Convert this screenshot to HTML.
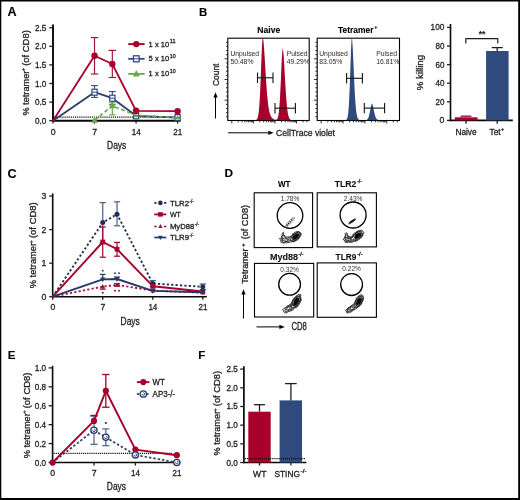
<!DOCTYPE html>
<html><head><meta charset="utf-8"><style>
html,body{margin:0;padding:0;background:#fff;}
svg{display:block;font-family:"Liberation Sans", sans-serif;will-change:transform;}
</style></head><body>
<svg width="520" height="500" viewBox="0 0 520 500">
<rect x="0" y="0" width="520" height="500" fill="#fff"/>
<text x="7.60" y="16.00" font-size="12.6" text-anchor="start" fill="#000" stroke="#000" stroke-width="0.1" font-weight="bold" >A</text>
<line x1="53.00" y1="24.60" x2="53.00" y2="121.70" stroke="#080808" stroke-width="1.9" />
<line x1="52.10" y1="120.70" x2="180.60" y2="120.70" stroke="#080808" stroke-width="1.9" />
<line x1="49.30" y1="120.70" x2="53.00" y2="120.70" stroke="#1e1e1e" stroke-width="1.3" />
<text x="46.30" y="123.70" font-size="8.7" text-anchor="end" fill="#1e1e1e" stroke="#1e1e1e" stroke-width="0.3" textLength="11.3" lengthAdjust="spacingAndGlyphs" >0.0</text>
<line x1="49.30" y1="102.10" x2="53.00" y2="102.10" stroke="#1e1e1e" stroke-width="1.3" />
<text x="46.30" y="105.10" font-size="8.7" text-anchor="end" fill="#1e1e1e" stroke="#1e1e1e" stroke-width="0.3" textLength="11.3" lengthAdjust="spacingAndGlyphs" >0.5</text>
<line x1="49.30" y1="83.50" x2="53.00" y2="83.50" stroke="#1e1e1e" stroke-width="1.3" />
<text x="46.30" y="86.50" font-size="8.7" text-anchor="end" fill="#1e1e1e" stroke="#1e1e1e" stroke-width="0.3" textLength="11.3" lengthAdjust="spacingAndGlyphs" >1.0</text>
<line x1="49.30" y1="64.90" x2="53.00" y2="64.90" stroke="#1e1e1e" stroke-width="1.3" />
<text x="46.30" y="67.90" font-size="8.7" text-anchor="end" fill="#1e1e1e" stroke="#1e1e1e" stroke-width="0.3" textLength="11.3" lengthAdjust="spacingAndGlyphs" >1.5</text>
<line x1="49.30" y1="46.30" x2="53.00" y2="46.30" stroke="#1e1e1e" stroke-width="1.3" />
<text x="46.30" y="49.30" font-size="8.7" text-anchor="end" fill="#1e1e1e" stroke="#1e1e1e" stroke-width="0.3" textLength="11.3" lengthAdjust="spacingAndGlyphs" >2.0</text>
<line x1="49.30" y1="27.70" x2="53.00" y2="27.70" stroke="#1e1e1e" stroke-width="1.3" />
<text x="46.30" y="30.70" font-size="8.7" text-anchor="end" fill="#1e1e1e" stroke="#1e1e1e" stroke-width="0.3" textLength="11.3" lengthAdjust="spacingAndGlyphs" >2.5</text>
<line x1="53.00" y1="120.70" x2="53.00" y2="123.60" stroke="#1e1e1e" stroke-width="1.3" />
<text x="53.10" y="134.60" font-size="8.7" text-anchor="middle" fill="#1e1e1e" stroke="#1e1e1e" stroke-width="0.3" >0</text>
<line x1="94.53" y1="120.70" x2="94.53" y2="123.60" stroke="#1e1e1e" stroke-width="1.3" />
<text x="94.63" y="134.60" font-size="8.7" text-anchor="middle" fill="#1e1e1e" stroke="#1e1e1e" stroke-width="0.3" >7</text>
<line x1="136.07" y1="120.70" x2="136.07" y2="123.60" stroke="#1e1e1e" stroke-width="1.3" />
<text x="136.17" y="134.60" font-size="8.7" text-anchor="middle" fill="#1e1e1e" stroke="#1e1e1e" stroke-width="0.3" textLength="8.9" lengthAdjust="spacingAndGlyphs" >14</text>
<line x1="177.60" y1="120.70" x2="177.60" y2="123.60" stroke="#1e1e1e" stroke-width="1.3" />
<text x="177.70" y="134.60" font-size="8.7" text-anchor="middle" fill="#1e1e1e" stroke="#1e1e1e" stroke-width="0.3" textLength="8.9" lengthAdjust="spacingAndGlyphs" >21</text>
<text x="116.70" y="148.90" font-size="10" text-anchor="middle" fill="#1e1e1e" stroke="#1e1e1e" stroke-width="0.3" textLength="19.2" lengthAdjust="spacingAndGlyphs" >Days</text>
<g transform="rotate(-90 29.20 115.60)"><text x="29.20" y="115.60" font-size="9.6" fill="#1e1e1e" stroke="#1e1e1e" stroke-width="0.3" textLength="44.92235294117647" lengthAdjust="spacingAndGlyphs">% tetramer</text><text x="73.72" y="111.80" font-size="5.376" fill="#1e1e1e" stroke="#1e1e1e" stroke-width="0.3" textLength="3.2376470588235295" lengthAdjust="spacingAndGlyphs">+</text><text x="78.98" y="115.60" font-size="9.6" fill="#1e1e1e" stroke="#1e1e1e" stroke-width="0.3" textLength="35.614117647058826" lengthAdjust="spacingAndGlyphs">(of CD8)</text></g>
<line x1="54.00" y1="117.00" x2="180.00" y2="117.00" stroke="#111" stroke-width="1.25" stroke-dasharray="1.2 0.9"/>
<polyline points="53.00,120.70 94.53,92.20 112.33,98.20 136.07,115.80 177.60,117.60" fill="none" stroke="#283f6e" stroke-width="1.8" stroke-linejoin="round" />
<line x1="94.53" y1="85.60" x2="94.53" y2="97.40" stroke="#2f4a7c" stroke-width="1.1" />
<line x1="91.13" y1="85.60" x2="97.93" y2="85.60" stroke="#2f4a7c" stroke-width="1.1" />
<line x1="91.13" y1="97.40" x2="97.93" y2="97.40" stroke="#2f4a7c" stroke-width="1.1" />
<line x1="112.33" y1="91.60" x2="112.33" y2="104.80" stroke="#2f4a7c" stroke-width="1.1" />
<line x1="108.93" y1="91.60" x2="115.73" y2="91.60" stroke="#2f4a7c" stroke-width="1.1" />
<line x1="108.93" y1="104.80" x2="115.73" y2="104.80" stroke="#2f4a7c" stroke-width="1.1" />
<rect x="91.93" y="89.20" width="5.20" height="6.00" fill="#fff" stroke="#2f4a7c" stroke-width="1.2"/>
<line x1="91.93" y1="92.20" x2="97.13" y2="92.20" stroke="#2f4a7c" stroke-width="1" />
<rect x="109.73" y="95.20" width="5.20" height="6.00" fill="#fff" stroke="#2f4a7c" stroke-width="1.2"/>
<line x1="109.73" y1="98.20" x2="114.93" y2="98.20" stroke="#2f4a7c" stroke-width="1" />
<rect x="133.47" y="112.80" width="5.20" height="6.00" fill="#fff" stroke="#2f4a7c" stroke-width="1.2"/>
<line x1="133.47" y1="115.80" x2="138.67" y2="115.80" stroke="#2f4a7c" stroke-width="1" />
<rect x="175.00" y="114.60" width="5.20" height="6.00" fill="#fff" stroke="#2f4a7c" stroke-width="1.2"/>
<line x1="175.00" y1="117.60" x2="180.20" y2="117.60" stroke="#2f4a7c" stroke-width="1" />
<polyline points="94.53,120.40 112.33,105.80 136.07,115.40 177.60,117.80" fill="none" stroke="#6aa94a" stroke-width="1.6" stroke-linejoin="round" stroke-dasharray="4 2.5"/>
<line x1="112.33" y1="102.80" x2="112.33" y2="114.80" stroke="#6aa94a" stroke-width="1.2" />
<line x1="109.13" y1="102.80" x2="115.53" y2="102.80" stroke="#6aa94a" stroke-width="1.2" />
<line x1="109.13" y1="114.80" x2="115.53" y2="114.80" stroke="#6aa94a" stroke-width="1.2" />
<polygon points="94.53,116.73 91.13,122.85 97.93,122.85" fill="#6aa94a" stroke="none"/>
<polygon points="112.33,102.13 108.93,108.25 115.73,108.25" fill="#6aa94a" stroke="none"/>
<polygon points="136.07,112.70 133.57,117.20 138.57,117.20" fill="#6aa94a" stroke="none"/>
<polygon points="177.60,115.10 175.10,119.60 180.10,119.60" fill="#6aa94a" stroke="none"/>
<polyline points="53.00,120.70 94.53,55.80 112.33,64.00 136.07,110.80 177.60,111.20" fill="none" stroke="#a6002b" stroke-width="1.8" stroke-linejoin="round" />
<line x1="94.53" y1="37.60" x2="94.53" y2="74.00" stroke="#9b1238" stroke-width="1.15" />
<line x1="90.83" y1="37.60" x2="98.23" y2="37.60" stroke="#9b1238" stroke-width="1.15" />
<line x1="90.83" y1="74.00" x2="98.23" y2="74.00" stroke="#9b1238" stroke-width="1.15" />
<line x1="112.33" y1="50.40" x2="112.33" y2="77.50" stroke="#9b1238" stroke-width="1.15" />
<line x1="108.63" y1="50.40" x2="116.03" y2="50.40" stroke="#9b1238" stroke-width="1.15" />
<line x1="108.63" y1="77.50" x2="116.03" y2="77.50" stroke="#9b1238" stroke-width="1.15" />
<circle cx="94.53" cy="55.80" r="3.20" fill="#a6002b" stroke="none" stroke-width="1"/>
<circle cx="112.33" cy="64.00" r="3.20" fill="#a6002b" stroke="none" stroke-width="1"/>
<circle cx="136.07" cy="110.80" r="3.20" fill="#a6002b" stroke="none" stroke-width="1"/>
<circle cx="177.60" cy="111.20" r="3.20" fill="#a6002b" stroke="none" stroke-width="1"/>
<line x1="128.20" y1="44.10" x2="144.60" y2="44.10" stroke="#a6002b" stroke-width="1.9" />
<circle cx="136.30" cy="44.10" r="3.20" fill="#a6002b" stroke="none" stroke-width="1"/>
<line x1="128.20" y1="58.80" x2="144.60" y2="58.80" stroke="#2f4a7c" stroke-width="1.8" />
<rect x="133.50" y="55.80" width="5.60" height="6.00" fill="#fff" stroke="#2f4a7c" stroke-width="1.3"/>
<line x1="133.50" y1="58.80" x2="139.10" y2="58.80" stroke="#2f4a7c" stroke-width="1" />
<line x1="128.20" y1="73.90" x2="144.60" y2="73.90" stroke="#6aa94a" stroke-width="1.8" />
<polygon points="136.30,70.12 132.80,76.42 139.80,76.42" fill="#6aa94a" stroke="none"/>
<text x="148.60" y="46.60" font-size="8.0" fill="#1e1e1e" stroke="#1e1e1e" stroke-width="0.3" textLength="20.6" lengthAdjust="spacingAndGlyphs">1 x 10</text><text x="169.80" y="43.10" font-size="5.4" fill="#1e1e1e" stroke="#1e1e1e" stroke-width="0.3" textLength="5.8" lengthAdjust="spacingAndGlyphs">11</text>
<text x="148.60" y="61.30" font-size="8.0" fill="#1e1e1e" stroke="#1e1e1e" stroke-width="0.3" textLength="20.6" lengthAdjust="spacingAndGlyphs">5 x 10</text><text x="169.80" y="57.80" font-size="5.4" fill="#1e1e1e" stroke="#1e1e1e" stroke-width="0.3" textLength="5.8" lengthAdjust="spacingAndGlyphs">10</text>
<text x="148.60" y="76.40" font-size="8.0" fill="#1e1e1e" stroke="#1e1e1e" stroke-width="0.3" textLength="20.6" lengthAdjust="spacingAndGlyphs">1 x 10</text><text x="169.80" y="72.90" font-size="5.4" fill="#1e1e1e" stroke="#1e1e1e" stroke-width="0.3" textLength="5.8" lengthAdjust="spacingAndGlyphs">10</text>
<text x="199.00" y="15.60" font-size="11.4" text-anchor="start" fill="#000" stroke="#000" stroke-width="0.1" font-weight="bold" >B</text>
<text x="268.80" y="32.60" font-size="8.6" text-anchor="middle" fill="#000" stroke="#000" stroke-width="0.1" font-weight="bold" textLength="23" lengthAdjust="spacingAndGlyphs" >Naive</text>
<text x="338.00" y="32.60" font-size="8.6" fill="#000" stroke="#000" stroke-width="0.1" font-weight="bold" textLength="35.6" lengthAdjust="spacingAndGlyphs">Tetramer</text><text x="374.20" y="29.20" font-size="5.6" fill="#000" stroke="#000" stroke-width="0.1" font-weight="bold" textLength="3.2" lengthAdjust="spacingAndGlyphs">+</text>
<rect x="227.80" y="38.20" width="81.40" height="82.30" fill="none" stroke="#000" stroke-width="1.1"/>
<line x1="226.00" y1="116.76" x2="227.80" y2="116.76" stroke="#000" stroke-width="0.8" />
<line x1="226.00" y1="112.62" x2="227.80" y2="112.62" stroke="#000" stroke-width="0.8" />
<line x1="226.00" y1="108.48" x2="227.80" y2="108.48" stroke="#000" stroke-width="0.8" />
<line x1="226.00" y1="104.34" x2="227.80" y2="104.34" stroke="#000" stroke-width="0.8" />
<line x1="224.60" y1="100.20" x2="227.80" y2="100.20" stroke="#000" stroke-width="0.8" />
<line x1="226.00" y1="96.06" x2="227.80" y2="96.06" stroke="#000" stroke-width="0.8" />
<line x1="226.00" y1="91.92" x2="227.80" y2="91.92" stroke="#000" stroke-width="0.8" />
<line x1="226.00" y1="87.78" x2="227.80" y2="87.78" stroke="#000" stroke-width="0.8" />
<line x1="226.00" y1="83.64" x2="227.80" y2="83.64" stroke="#000" stroke-width="0.8" />
<line x1="224.60" y1="79.50" x2="227.80" y2="79.50" stroke="#000" stroke-width="0.8" />
<line x1="226.00" y1="75.36" x2="227.80" y2="75.36" stroke="#000" stroke-width="0.8" />
<line x1="226.00" y1="71.22" x2="227.80" y2="71.22" stroke="#000" stroke-width="0.8" />
<line x1="226.00" y1="67.08" x2="227.80" y2="67.08" stroke="#000" stroke-width="0.8" />
<line x1="226.00" y1="62.94" x2="227.80" y2="62.94" stroke="#000" stroke-width="0.8" />
<line x1="224.60" y1="58.80" x2="227.80" y2="58.80" stroke="#000" stroke-width="0.8" />
<line x1="226.00" y1="54.66" x2="227.80" y2="54.66" stroke="#000" stroke-width="0.8" />
<line x1="226.00" y1="50.52" x2="227.80" y2="50.52" stroke="#000" stroke-width="0.8" />
<line x1="226.00" y1="46.38" x2="227.80" y2="46.38" stroke="#000" stroke-width="0.8" />
<line x1="226.00" y1="42.24" x2="227.80" y2="42.24" stroke="#000" stroke-width="0.8" />
<line x1="231.80" y1="120.50" x2="231.80" y2="123.50" stroke="#000" stroke-width="0.8" />
<line x1="238.30" y1="120.50" x2="238.30" y2="122.30" stroke="#000" stroke-width="0.8" />
<line x1="242.10" y1="120.50" x2="242.10" y2="122.30" stroke="#000" stroke-width="0.8" />
<line x1="244.80" y1="120.50" x2="244.80" y2="122.30" stroke="#000" stroke-width="0.8" />
<line x1="246.89" y1="120.50" x2="246.89" y2="122.30" stroke="#000" stroke-width="0.8" />
<line x1="248.60" y1="120.50" x2="248.60" y2="122.30" stroke="#000" stroke-width="0.8" />
<line x1="250.04" y1="120.50" x2="250.04" y2="122.30" stroke="#000" stroke-width="0.8" />
<line x1="251.30" y1="120.50" x2="251.30" y2="122.30" stroke="#000" stroke-width="0.8" />
<line x1="252.40" y1="120.50" x2="252.40" y2="122.30" stroke="#000" stroke-width="0.8" />
<line x1="253.39" y1="120.50" x2="253.39" y2="123.50" stroke="#000" stroke-width="0.8" />
<line x1="259.89" y1="120.50" x2="259.89" y2="122.30" stroke="#000" stroke-width="0.8" />
<line x1="263.69" y1="120.50" x2="263.69" y2="122.30" stroke="#000" stroke-width="0.8" />
<line x1="266.39" y1="120.50" x2="266.39" y2="122.30" stroke="#000" stroke-width="0.8" />
<line x1="268.48" y1="120.50" x2="268.48" y2="122.30" stroke="#000" stroke-width="0.8" />
<line x1="270.19" y1="120.50" x2="270.19" y2="122.30" stroke="#000" stroke-width="0.8" />
<line x1="271.63" y1="120.50" x2="271.63" y2="122.30" stroke="#000" stroke-width="0.8" />
<line x1="272.88" y1="120.50" x2="272.88" y2="122.30" stroke="#000" stroke-width="0.8" />
<line x1="273.99" y1="120.50" x2="273.99" y2="122.30" stroke="#000" stroke-width="0.8" />
<line x1="274.98" y1="120.50" x2="274.98" y2="123.50" stroke="#000" stroke-width="0.8" />
<line x1="281.48" y1="120.50" x2="281.48" y2="122.30" stroke="#000" stroke-width="0.8" />
<line x1="285.28" y1="120.50" x2="285.28" y2="122.30" stroke="#000" stroke-width="0.8" />
<line x1="287.97" y1="120.50" x2="287.97" y2="122.30" stroke="#000" stroke-width="0.8" />
<line x1="290.07" y1="120.50" x2="290.07" y2="122.30" stroke="#000" stroke-width="0.8" />
<line x1="291.78" y1="120.50" x2="291.78" y2="122.30" stroke="#000" stroke-width="0.8" />
<line x1="293.22" y1="120.50" x2="293.22" y2="122.30" stroke="#000" stroke-width="0.8" />
<line x1="294.47" y1="120.50" x2="294.47" y2="122.30" stroke="#000" stroke-width="0.8" />
<line x1="295.58" y1="120.50" x2="295.58" y2="122.30" stroke="#000" stroke-width="0.8" />
<line x1="296.56" y1="120.50" x2="296.56" y2="123.50" stroke="#000" stroke-width="0.8" />
<line x1="303.06" y1="120.50" x2="303.06" y2="122.30" stroke="#000" stroke-width="0.8" />
<line x1="306.86" y1="120.50" x2="306.86" y2="122.30" stroke="#000" stroke-width="0.8" />
<path d="M252.00,120.20 L252.00,120.20 L252.25,120.20 L252.50,120.20 L252.75,120.20 L253.00,120.20 L253.25,120.19 L253.50,120.19 L253.75,120.19 L254.00,120.18 L254.25,120.18 L254.50,120.17 L254.75,120.16 L255.00,120.14 L255.25,120.11 L255.50,120.07 L255.75,120.01 L256.00,119.93 L256.25,119.81 L256.50,119.65 L256.75,119.43 L257.00,119.12 L257.25,118.70 L257.50,118.14 L257.75,117.40 L258.00,116.43 L258.25,115.19 L258.50,113.61 L258.75,111.64 L259.00,109.22 L259.25,106.29 L259.50,102.80 L259.75,98.73 L260.00,94.06 L260.25,88.81 L260.50,83.03 L260.75,76.82 L261.00,70.32 L261.25,63.72 L261.50,57.24 L261.75,51.16 L262.00,45.78 L262.25,41.42 L262.50,38.45 L262.75,37.39 L263.00,37.97 L263.25,39.41 L263.50,41.54 L263.75,44.25 L264.00,47.44 L264.25,51.00 L264.50,54.83 L264.75,58.85 L265.00,62.98 L265.25,67.14 L265.50,71.27 L265.75,75.31 L266.00,79.23 L266.25,82.98 L266.50,86.55 L266.75,89.92 L267.00,93.07 L267.25,95.98 L267.50,98.64 L267.75,101.06 L268.00,103.25 L268.25,105.21 L268.50,106.97 L268.75,108.54 L269.00,109.92 L269.25,111.14 L269.50,112.22 L269.75,113.17 L270.00,114.00 L270.25,114.73 L270.50,115.37 L270.75,115.93 L271.00,116.42 L271.25,116.85 L271.50,117.23 L271.75,117.57 L272.00,117.87 L272.25,118.13 L272.50,118.36 L272.75,118.57 L273.00,118.76 L273.25,118.92 L273.50,119.07 L273.75,119.20 L274.00,119.32 L274.25,119.42 L274.50,119.51 L274.75,119.58 L275.00,119.64 L275.25,119.69 L275.50,119.72 L275.75,119.73 L276.00,119.71 L276.25,119.65 L276.50,119.56 L276.75,119.40 L277.00,119.17 L277.25,118.84 L277.50,118.38 L277.75,117.76 L278.00,116.94 L278.25,115.88 L278.50,114.52 L278.75,112.82 L279.00,110.72 L279.25,108.16 L279.50,105.12 L279.75,101.56 L280.00,97.47 L280.25,92.87 L280.50,87.82 L280.75,82.38 L281.00,76.70 L281.25,70.94 L281.50,65.30 L281.75,60.03 L282.00,55.40 L282.25,51.70 L282.50,49.25 L282.75,48.54 L283.00,49.48 L283.25,51.40 L283.50,54.07 L283.75,57.37 L284.00,61.14 L284.25,65.26 L284.50,69.59 L284.75,74.04 L285.00,78.49 L285.25,82.85 L285.50,87.06 L285.75,91.06 L286.00,94.79 L286.25,98.24 L286.50,101.37 L286.75,104.20 L287.00,106.71 L287.25,108.92 L287.50,110.84 L287.75,112.50 L288.00,113.91 L288.25,115.11 L288.50,116.10 L288.75,116.93 L289.00,117.61 L289.25,118.17 L289.50,118.61 L289.75,118.97 L290.00,119.26 L290.25,119.48 L290.50,119.66 L290.75,119.79 L291.00,119.89 L291.25,119.97 L291.50,120.03 L291.75,120.08 L292.00,120.11 L292.25,120.14 L292.50,120.15 L292.75,120.17 L293.00,120.18 L293.25,120.18 L293.50,120.19 L293.75,120.19 L294.00,120.19 L294.25,120.20 L294.50,120.20 L294.75,120.20 L295.00,120.20 L295.25,120.20 L295.50,120.20 L295.75,120.20 L296.00,120.20 L296.25,120.20 L296.50,120.20 L296.75,120.20 L297.00,120.20 L297.25,120.20 L297.50,120.20 L297.75,120.20 L298.00,120.20 L298.25,120.20 L298.50,120.20 L298.75,120.20 L299.00,120.20 L299.25,120.20 L299.50,120.20 L299.75,120.20 L300.00,120.20 L300.25,120.20 L300.50,120.20 L300.75,120.20 L301.00,120.20 L301.25,120.20 L301.50,120.20 L301.75,120.20 L302.00,120.20 L302.00,120.20 Z" fill="#a6002b"/>
<rect x="317.20" y="38.20" width="82.30" height="82.30" fill="none" stroke="#000" stroke-width="1.1"/>
<line x1="315.40" y1="116.76" x2="317.20" y2="116.76" stroke="#000" stroke-width="0.8" />
<line x1="315.40" y1="112.62" x2="317.20" y2="112.62" stroke="#000" stroke-width="0.8" />
<line x1="315.40" y1="108.48" x2="317.20" y2="108.48" stroke="#000" stroke-width="0.8" />
<line x1="315.40" y1="104.34" x2="317.20" y2="104.34" stroke="#000" stroke-width="0.8" />
<line x1="314.00" y1="100.20" x2="317.20" y2="100.20" stroke="#000" stroke-width="0.8" />
<line x1="315.40" y1="96.06" x2="317.20" y2="96.06" stroke="#000" stroke-width="0.8" />
<line x1="315.40" y1="91.92" x2="317.20" y2="91.92" stroke="#000" stroke-width="0.8" />
<line x1="315.40" y1="87.78" x2="317.20" y2="87.78" stroke="#000" stroke-width="0.8" />
<line x1="315.40" y1="83.64" x2="317.20" y2="83.64" stroke="#000" stroke-width="0.8" />
<line x1="314.00" y1="79.50" x2="317.20" y2="79.50" stroke="#000" stroke-width="0.8" />
<line x1="315.40" y1="75.36" x2="317.20" y2="75.36" stroke="#000" stroke-width="0.8" />
<line x1="315.40" y1="71.22" x2="317.20" y2="71.22" stroke="#000" stroke-width="0.8" />
<line x1="315.40" y1="67.08" x2="317.20" y2="67.08" stroke="#000" stroke-width="0.8" />
<line x1="315.40" y1="62.94" x2="317.20" y2="62.94" stroke="#000" stroke-width="0.8" />
<line x1="314.00" y1="58.80" x2="317.20" y2="58.80" stroke="#000" stroke-width="0.8" />
<line x1="315.40" y1="54.66" x2="317.20" y2="54.66" stroke="#000" stroke-width="0.8" />
<line x1="315.40" y1="50.52" x2="317.20" y2="50.52" stroke="#000" stroke-width="0.8" />
<line x1="315.40" y1="46.38" x2="317.20" y2="46.38" stroke="#000" stroke-width="0.8" />
<line x1="315.40" y1="42.24" x2="317.20" y2="42.24" stroke="#000" stroke-width="0.8" />
<line x1="321.20" y1="120.50" x2="321.20" y2="123.50" stroke="#000" stroke-width="0.8" />
<line x1="327.78" y1="120.50" x2="327.78" y2="122.30" stroke="#000" stroke-width="0.8" />
<line x1="331.63" y1="120.50" x2="331.63" y2="122.30" stroke="#000" stroke-width="0.8" />
<line x1="334.36" y1="120.50" x2="334.36" y2="122.30" stroke="#000" stroke-width="0.8" />
<line x1="336.47" y1="120.50" x2="336.47" y2="122.30" stroke="#000" stroke-width="0.8" />
<line x1="338.20" y1="120.50" x2="338.20" y2="122.30" stroke="#000" stroke-width="0.8" />
<line x1="339.67" y1="120.50" x2="339.67" y2="122.30" stroke="#000" stroke-width="0.8" />
<line x1="340.94" y1="120.50" x2="340.94" y2="122.30" stroke="#000" stroke-width="0.8" />
<line x1="342.05" y1="120.50" x2="342.05" y2="122.30" stroke="#000" stroke-width="0.8" />
<line x1="343.05" y1="120.50" x2="343.05" y2="123.50" stroke="#000" stroke-width="0.8" />
<line x1="349.63" y1="120.50" x2="349.63" y2="122.30" stroke="#000" stroke-width="0.8" />
<line x1="353.48" y1="120.50" x2="353.48" y2="122.30" stroke="#000" stroke-width="0.8" />
<line x1="356.21" y1="120.50" x2="356.21" y2="122.30" stroke="#000" stroke-width="0.8" />
<line x1="358.33" y1="120.50" x2="358.33" y2="122.30" stroke="#000" stroke-width="0.8" />
<line x1="360.06" y1="120.50" x2="360.06" y2="122.30" stroke="#000" stroke-width="0.8" />
<line x1="361.52" y1="120.50" x2="361.52" y2="122.30" stroke="#000" stroke-width="0.8" />
<line x1="362.79" y1="120.50" x2="362.79" y2="122.30" stroke="#000" stroke-width="0.8" />
<line x1="363.91" y1="120.50" x2="363.91" y2="122.30" stroke="#000" stroke-width="0.8" />
<line x1="364.91" y1="120.50" x2="364.91" y2="123.50" stroke="#000" stroke-width="0.8" />
<line x1="371.48" y1="120.50" x2="371.48" y2="122.30" stroke="#000" stroke-width="0.8" />
<line x1="375.33" y1="120.50" x2="375.33" y2="122.30" stroke="#000" stroke-width="0.8" />
<line x1="378.06" y1="120.50" x2="378.06" y2="122.30" stroke="#000" stroke-width="0.8" />
<line x1="380.18" y1="120.50" x2="380.18" y2="122.30" stroke="#000" stroke-width="0.8" />
<line x1="381.91" y1="120.50" x2="381.91" y2="122.30" stroke="#000" stroke-width="0.8" />
<line x1="383.37" y1="120.50" x2="383.37" y2="122.30" stroke="#000" stroke-width="0.8" />
<line x1="384.64" y1="120.50" x2="384.64" y2="122.30" stroke="#000" stroke-width="0.8" />
<line x1="385.76" y1="120.50" x2="385.76" y2="122.30" stroke="#000" stroke-width="0.8" />
<line x1="386.76" y1="120.50" x2="386.76" y2="123.50" stroke="#000" stroke-width="0.8" />
<line x1="393.34" y1="120.50" x2="393.34" y2="122.30" stroke="#000" stroke-width="0.8" />
<line x1="397.19" y1="120.50" x2="397.19" y2="122.30" stroke="#000" stroke-width="0.8" />
<path d="M340.00,120.20 L340.00,120.20 L340.23,120.20 L340.45,120.20 L340.68,120.20 L340.90,120.20 L341.12,120.20 L341.35,120.20 L341.57,120.20 L341.80,120.20 L342.02,120.20 L342.25,120.20 L342.48,120.20 L342.70,120.20 L342.93,120.20 L343.15,120.20 L343.38,120.20 L343.60,120.20 L343.82,120.20 L344.05,120.19 L344.27,120.19 L344.50,120.19 L344.73,120.18 L344.95,120.16 L345.18,120.14 L345.40,120.11 L345.62,120.06 L345.85,119.99 L346.07,119.89 L346.30,119.74 L346.52,119.53 L346.75,119.24 L346.98,118.83 L347.20,118.29 L347.43,117.55 L347.65,116.59 L347.88,115.33 L348.10,113.73 L348.32,111.72 L348.55,109.22 L348.77,106.19 L349.00,102.58 L349.23,98.35 L349.45,93.49 L349.68,88.04 L349.90,82.05 L350.12,75.64 L350.35,68.97 L350.57,62.26 L350.80,55.76 L351.02,49.79 L351.25,44.67 L351.48,40.77 L351.70,38.51 L351.93,38.49 L352.15,40.04 L352.38,42.63 L352.60,46.05 L352.82,50.12 L353.05,54.69 L353.27,59.60 L353.50,64.71 L353.73,69.89 L353.95,75.02 L354.18,80.01 L354.40,84.77 L354.62,89.25 L354.85,93.41 L355.07,97.20 L355.30,100.63 L355.52,103.69 L355.75,106.39 L355.98,108.74 L356.20,110.77 L356.43,112.51 L356.65,113.97 L356.88,115.20 L357.10,116.21 L357.32,117.05 L357.55,117.73 L357.77,118.28 L358.00,118.71 L358.23,119.06 L358.45,119.33 L358.68,119.55 L358.90,119.71 L359.12,119.83 L359.35,119.93 L359.57,120.00 L359.80,120.06 L360.02,120.10 L360.25,120.13 L360.48,120.15 L360.70,120.16 L360.93,120.17 L361.15,120.18 L361.38,120.19 L361.60,120.19 L361.82,120.19 L362.05,120.20 L362.27,120.20 L362.50,120.20 L362.73,120.20 L362.95,120.20 L363.18,120.20 L363.40,120.20 L363.62,120.20 L363.85,120.20 L364.07,120.19 L364.30,120.19 L364.52,120.19 L364.75,120.18 L364.98,120.17 L365.20,120.15 L365.43,120.14 L365.65,120.11 L365.88,120.07 L366.10,120.03 L366.32,119.96 L366.55,119.88 L366.77,119.77 L367.00,119.62 L367.23,119.44 L367.45,119.22 L367.68,118.93 L367.90,118.59 L368.12,118.17 L368.35,117.67 L368.57,117.08 L368.80,116.40 L369.02,115.62 L369.25,114.74 L369.48,113.76 L369.70,112.71 L369.93,111.58 L370.15,110.40 L370.38,109.20 L370.60,108.01 L370.82,106.87 L371.05,105.82 L371.27,104.92 L371.50,104.20 L371.73,103.74 L371.95,103.61 L372.18,103.85 L372.40,104.33 L372.62,105.00 L372.85,105.82 L373.07,106.75 L373.30,107.76 L373.52,108.82 L373.75,109.89 L373.98,110.96 L374.20,112.00 L374.43,112.99 L374.65,113.92 L374.88,114.79 L375.10,115.57 L375.32,116.28 L375.55,116.91 L375.77,117.47 L376.00,117.95 L376.23,118.36 L376.45,118.71 L376.68,119.00 L376.90,119.24 L377.12,119.44 L377.35,119.61 L377.57,119.74 L377.80,119.84 L378.02,119.93 L378.25,119.99 L378.48,120.04 L378.70,120.08 L378.93,120.11 L379.15,120.14 L379.38,120.15 L379.60,120.17 L379.82,120.18 L380.05,120.18 L380.27,120.19 L380.50,120.19 L380.73,120.19 L380.95,120.20 L381.18,120.20 L381.40,120.20 L381.62,120.20 L381.85,120.20 L382.07,120.20 L382.30,120.20 L382.52,120.20 L382.75,120.20 L382.98,120.20 L383.20,120.20 L383.43,120.20 L383.65,120.20 L383.88,120.20 L384.10,120.20 L384.32,120.20 L384.55,120.20 L384.77,120.20 L385.00,120.20 L385.00,120.20 Z" fill="#2f4a7c"/>
<line x1="257.50" y1="77.80" x2="273.00" y2="77.80" stroke="#111" stroke-width="1.1" />
<line x1="257.50" y1="72.60" x2="257.50" y2="83.00" stroke="#111" stroke-width="1.1" />
<line x1="273.00" y1="72.60" x2="273.00" y2="83.00" stroke="#111" stroke-width="1.1" />
<line x1="275.00" y1="108.20" x2="295.40" y2="108.20" stroke="#111" stroke-width="1.1" />
<line x1="275.00" y1="103.00" x2="275.00" y2="113.40" stroke="#111" stroke-width="1.1" />
<line x1="295.40" y1="103.00" x2="295.40" y2="113.40" stroke="#111" stroke-width="1.1" />
<line x1="346.60" y1="78.30" x2="362.40" y2="78.30" stroke="#111" stroke-width="1.1" />
<line x1="346.60" y1="73.10" x2="346.60" y2="83.50" stroke="#111" stroke-width="1.1" />
<line x1="362.40" y1="73.10" x2="362.40" y2="83.50" stroke="#111" stroke-width="1.1" />
<line x1="364.30" y1="108.10" x2="384.60" y2="108.10" stroke="#111" stroke-width="1.1" />
<line x1="364.30" y1="102.90" x2="364.30" y2="113.30" stroke="#111" stroke-width="1.1" />
<line x1="384.60" y1="102.90" x2="384.60" y2="113.30" stroke="#111" stroke-width="1.1" />
<text x="230.40" y="56.4" font-size="6.8" fill="#2a2a2a">Unpulsed</text>
<text x="230.40" y="64.0" font-size="6.8" fill="#2a2a2a">50.48%</text>
<text x="286.70" y="56.4" font-size="6.8" fill="#2a2a2a">Pulsed</text>
<text x="286.70" y="64.0" font-size="6.8" fill="#2a2a2a">49.29%</text>
<text x="319.20" y="56.4" font-size="6.8" fill="#2a2a2a">Unpulsed</text>
<text x="319.20" y="64.0" font-size="6.8" fill="#2a2a2a">83.05%</text>
<text x="376.20" y="56.4" font-size="6.8" fill="#2a2a2a">Pulsed</text>
<text x="376.20" y="64.0" font-size="6.8" fill="#2a2a2a">16.81%</text>
<text x="218.80" y="74.80" font-size="8.6" text-anchor="middle" fill="#1e1e1e" stroke="#1e1e1e" stroke-width="0.3" textLength="22.5" lengthAdjust="spacingAndGlyphs" transform="rotate(-90 218.80 74.80)" >Count</text>
<line x1="215.50" y1="118.50" x2="215.50" y2="96.00" stroke="#000" stroke-width="1" />
<polygon points="215.5,92.2 213.4,97.6 217.6,97.6" fill="#000"/>
<line x1="228.20" y1="132.80" x2="269.00" y2="132.80" stroke="#000" stroke-width="1" />
<polygon points="273.6,132.8 268.4,130.7 268.4,134.9" fill="#000"/>
<text x="276.00" y="136.00" font-size="9.6" text-anchor="start" fill="#1e1e1e" stroke="#1e1e1e" stroke-width="0.3" textLength="59" lengthAdjust="spacingAndGlyphs" >CellTrace violet</text>
<line x1="450.50" y1="24.00" x2="450.50" y2="121.20" stroke="#080808" stroke-width="1.6" />
<line x1="449.70" y1="120.40" x2="512.80" y2="120.40" stroke="#080808" stroke-width="1.6" />
<line x1="447.00" y1="120.40" x2="450.50" y2="120.40" stroke="#1e1e1e" stroke-width="1.3" />
<text x="444.40" y="123.40" font-size="8.7" text-anchor="end" fill="#1e1e1e" stroke="#1e1e1e" stroke-width="0.3" >0</text>
<line x1="447.00" y1="101.80" x2="450.50" y2="101.80" stroke="#1e1e1e" stroke-width="1.3" />
<text x="444.40" y="104.80" font-size="8.7" text-anchor="end" fill="#1e1e1e" stroke="#1e1e1e" stroke-width="0.3" textLength="8.9" lengthAdjust="spacingAndGlyphs" >20</text>
<line x1="447.00" y1="83.20" x2="450.50" y2="83.20" stroke="#1e1e1e" stroke-width="1.3" />
<text x="444.40" y="86.20" font-size="8.7" text-anchor="end" fill="#1e1e1e" stroke="#1e1e1e" stroke-width="0.3" textLength="8.9" lengthAdjust="spacingAndGlyphs" >40</text>
<line x1="447.00" y1="64.60" x2="450.50" y2="64.60" stroke="#1e1e1e" stroke-width="1.3" />
<text x="444.40" y="67.60" font-size="8.7" text-anchor="end" fill="#1e1e1e" stroke="#1e1e1e" stroke-width="0.3" textLength="8.9" lengthAdjust="spacingAndGlyphs" >60</text>
<line x1="447.00" y1="46.00" x2="450.50" y2="46.00" stroke="#1e1e1e" stroke-width="1.3" />
<text x="444.40" y="49.00" font-size="8.7" text-anchor="end" fill="#1e1e1e" stroke="#1e1e1e" stroke-width="0.3" textLength="8.9" lengthAdjust="spacingAndGlyphs" >80</text>
<line x1="447.00" y1="27.40" x2="450.50" y2="27.40" stroke="#1e1e1e" stroke-width="1.3" />
<text x="444.40" y="30.40" font-size="8.7" text-anchor="end" fill="#1e1e1e" stroke="#1e1e1e" stroke-width="0.3" textLength="13.9" lengthAdjust="spacingAndGlyphs" >100</text>
<rect x="454.80" y="117.30" width="22.70" height="3.10" fill="#a6002b" stroke="none" stroke-width="1"/>
<line x1="466.00" y1="117.30" x2="466.00" y2="116.20" stroke="#a6002b" stroke-width="1.3" />
<line x1="460.60" y1="116.20" x2="471.40" y2="116.20" stroke="#a6002b" stroke-width="1.3" />
<rect x="486.10" y="51.00" width="22.50" height="69.40" fill="#2f4a7c" stroke="none" stroke-width="1"/>
<line x1="497.20" y1="51.00" x2="497.20" y2="47.60" stroke="#1e1e1e" stroke-width="1.3" />
<line x1="491.70" y1="47.60" x2="502.70" y2="47.60" stroke="#1e1e1e" stroke-width="1.3" />
<line x1="466.00" y1="120.40" x2="466.00" y2="123.80" stroke="#1e1e1e" stroke-width="1.3" />
<line x1="497.20" y1="120.40" x2="497.20" y2="123.80" stroke="#1e1e1e" stroke-width="1.3" />
<text x="466.00" y="134.60" font-size="8.8" text-anchor="middle" fill="#1e1e1e" stroke="#1e1e1e" stroke-width="0.3" textLength="21.2" lengthAdjust="spacingAndGlyphs" >Naive</text>
<text x="489.60" y="134.60" font-size="8.6" fill="#1e1e1e" stroke="#1e1e1e" stroke-width="0.3" textLength="11.0" lengthAdjust="spacingAndGlyphs">Tet</text><text x="501.00" y="131.00" font-size="5.4" fill="#1e1e1e" stroke="#1e1e1e" stroke-width="0.3" textLength="3.2" lengthAdjust="spacingAndGlyphs">+</text>
<polyline points="465.80,43.60 465.80,38.70 497.80,38.70 497.80,43.60" fill="none" stroke="#1e1e1e" stroke-width="1.2" stroke-linejoin="round" />
<text x="482.00" y="37.30" font-size="8.5" text-anchor="middle" fill="#1e1e1e" stroke="#1e1e1e" stroke-width="0.1" font-weight="bold" >**</text>
<text x="423.00" y="72.60" font-size="9.4" text-anchor="middle" fill="#1e1e1e" stroke="#1e1e1e" stroke-width="0.3" textLength="35.4" lengthAdjust="spacingAndGlyphs" transform="rotate(-90 423.00 72.60)" >% killing</text>
<text x="7.40" y="177.70" font-size="12.6" text-anchor="start" fill="#000" stroke="#000" stroke-width="0.1" font-weight="bold" >C</text>
<line x1="52.70" y1="193.40" x2="52.70" y2="297.50" stroke="#080808" stroke-width="1.6" />
<line x1="51.90" y1="296.70" x2="206.80" y2="296.70" stroke="#080808" stroke-width="1.6" />
<line x1="49.20" y1="296.70" x2="52.70" y2="296.70" stroke="#1e1e1e" stroke-width="1.3" />
<text x="46.40" y="299.70" font-size="8.7" text-anchor="end" fill="#1e1e1e" stroke="#1e1e1e" stroke-width="0.3" >0</text>
<line x1="49.20" y1="263.15" x2="52.70" y2="263.15" stroke="#1e1e1e" stroke-width="1.3" />
<text x="46.40" y="266.15" font-size="8.7" text-anchor="end" fill="#1e1e1e" stroke="#1e1e1e" stroke-width="0.3" >1</text>
<line x1="49.20" y1="229.60" x2="52.70" y2="229.60" stroke="#1e1e1e" stroke-width="1.3" />
<text x="46.40" y="232.60" font-size="8.7" text-anchor="end" fill="#1e1e1e" stroke="#1e1e1e" stroke-width="0.3" >2</text>
<line x1="49.20" y1="196.05" x2="52.70" y2="196.05" stroke="#1e1e1e" stroke-width="1.3" />
<text x="46.40" y="199.05" font-size="8.7" text-anchor="end" fill="#1e1e1e" stroke="#1e1e1e" stroke-width="0.3" >3</text>
<line x1="52.70" y1="296.70" x2="52.70" y2="299.80" stroke="#1e1e1e" stroke-width="1.3" />
<text x="52.80" y="310.40" font-size="8.7" text-anchor="middle" fill="#1e1e1e" stroke="#1e1e1e" stroke-width="0.3" >0</text>
<line x1="102.73" y1="296.70" x2="102.73" y2="299.80" stroke="#1e1e1e" stroke-width="1.3" />
<text x="102.83" y="310.40" font-size="8.7" text-anchor="middle" fill="#1e1e1e" stroke="#1e1e1e" stroke-width="0.3" >7</text>
<line x1="152.77" y1="296.70" x2="152.77" y2="299.80" stroke="#1e1e1e" stroke-width="1.3" />
<text x="152.87" y="310.40" font-size="8.7" text-anchor="middle" fill="#1e1e1e" stroke="#1e1e1e" stroke-width="0.3" textLength="8.9" lengthAdjust="spacingAndGlyphs" >14</text>
<line x1="202.80" y1="296.70" x2="202.80" y2="299.80" stroke="#1e1e1e" stroke-width="1.3" />
<text x="202.90" y="310.40" font-size="8.7" text-anchor="middle" fill="#1e1e1e" stroke="#1e1e1e" stroke-width="0.3" textLength="8.9" lengthAdjust="spacingAndGlyphs" >21</text>
<text x="130.20" y="324.60" font-size="10" text-anchor="middle" fill="#1e1e1e" stroke="#1e1e1e" stroke-width="0.3" textLength="19.2" lengthAdjust="spacingAndGlyphs" >Days</text>
<g transform="rotate(-90 36.40 288.20)"><text x="36.40" y="288.20" font-size="9.6" fill="#1e1e1e" stroke="#1e1e1e" stroke-width="0.3" textLength="45.23576470588235" lengthAdjust="spacingAndGlyphs">% tetramer</text><text x="81.23" y="284.40" font-size="5.376" fill="#1e1e1e" stroke="#1e1e1e" stroke-width="0.3" textLength="3.2602352941176473" lengthAdjust="spacingAndGlyphs">+</text><text x="86.53" y="288.20" font-size="9.6" fill="#1e1e1e" stroke="#1e1e1e" stroke-width="0.3" textLength="35.86258823529412" lengthAdjust="spacingAndGlyphs">(of CD8)</text></g>
<polyline points="52.70,296.70 102.73,222.60 117.03,214.20 152.77,283.50 202.80,286.80" fill="none" stroke="#1f2e52" stroke-width="1.9" stroke-linejoin="round" stroke-dasharray="2.2 2.2"/>
<line x1="102.73" y1="202.60" x2="102.73" y2="242.60" stroke="#4b5f86" stroke-width="1.2" />
<line x1="99.63" y1="202.60" x2="105.83" y2="202.60" stroke="#4b5f86" stroke-width="1.2" />
<line x1="99.63" y1="242.60" x2="105.83" y2="242.60" stroke="#4b5f86" stroke-width="1.2" />
<line x1="117.03" y1="201.80" x2="117.03" y2="225.80" stroke="#4b5f86" stroke-width="1.2" />
<line x1="113.93" y1="201.80" x2="120.13" y2="201.80" stroke="#4b5f86" stroke-width="1.2" />
<line x1="113.93" y1="225.80" x2="120.13" y2="225.80" stroke="#4b5f86" stroke-width="1.2" />
<line x1="152.77" y1="280.50" x2="152.77" y2="286.50" stroke="#4b5f86" stroke-width="1.2" />
<line x1="149.67" y1="280.50" x2="155.87" y2="280.50" stroke="#4b5f86" stroke-width="1.2" />
<line x1="149.67" y1="286.50" x2="155.87" y2="286.50" stroke="#4b5f86" stroke-width="1.2" />
<line x1="202.80" y1="284.00" x2="202.80" y2="289.60" stroke="#4b5f86" stroke-width="1.2" />
<line x1="199.70" y1="284.00" x2="205.90" y2="284.00" stroke="#4b5f86" stroke-width="1.2" />
<line x1="199.70" y1="289.60" x2="205.90" y2="289.60" stroke="#4b5f86" stroke-width="1.2" />
<polyline points="52.70,296.70 102.73,242.00 117.03,249.20 152.77,286.20 202.80,291.50" fill="none" stroke="#a6002b" stroke-width="1.9" stroke-linejoin="round" />
<line x1="102.73" y1="227.00" x2="102.73" y2="257.20" stroke="#a6002b" stroke-width="1.2" />
<line x1="99.63" y1="227.00" x2="105.83" y2="227.00" stroke="#a6002b" stroke-width="1.2" />
<line x1="99.63" y1="257.20" x2="105.83" y2="257.20" stroke="#a6002b" stroke-width="1.2" />
<line x1="117.03" y1="242.40" x2="117.03" y2="256.20" stroke="#a6002b" stroke-width="1.2" />
<line x1="113.93" y1="242.40" x2="120.13" y2="242.40" stroke="#a6002b" stroke-width="1.2" />
<line x1="113.93" y1="256.20" x2="120.13" y2="256.20" stroke="#a6002b" stroke-width="1.2" />
<polyline points="52.70,296.70 102.73,286.60 117.03,284.90 152.77,290.60 202.80,292.80" fill="none" stroke="#a0143c" stroke-width="1.8" stroke-linejoin="round" stroke-dasharray="2.2 2.2"/>
<line x1="102.73" y1="286.60" x2="102.73" y2="289.20" stroke="#a0143c" stroke-width="1.2" />
<line x1="99.73" y1="289.20" x2="105.73" y2="289.20" stroke="#a0143c" stroke-width="1.2" />
<line x1="117.03" y1="283.60" x2="117.03" y2="286.20" stroke="#a0143c" stroke-width="1.2" />
<line x1="114.03" y1="283.60" x2="120.03" y2="283.60" stroke="#a0143c" stroke-width="1.2" />
<line x1="114.03" y1="286.20" x2="120.03" y2="286.20" stroke="#a0143c" stroke-width="1.2" />
<polyline points="52.70,296.70 102.73,279.40 117.03,279.00 152.77,290.90 202.80,292.20" fill="none" stroke="#26396a" stroke-width="1.9" stroke-linejoin="round" />
<line x1="102.73" y1="279.40" x2="102.73" y2="274.40" stroke="#26396a" stroke-width="1.2" />
<line x1="99.83" y1="274.40" x2="105.63" y2="274.40" stroke="#26396a" stroke-width="1.2" />
<line x1="117.03" y1="279.00" x2="117.03" y2="277.00" stroke="#26396a" stroke-width="1.2" />
<line x1="114.13" y1="277.00" x2="119.93" y2="277.00" stroke="#26396a" stroke-width="1.2" />
<line x1="152.77" y1="290.90" x2="152.77" y2="289.20" stroke="#26396a" stroke-width="1.2" />
<line x1="149.87" y1="289.20" x2="155.67" y2="289.20" stroke="#26396a" stroke-width="1.2" />
<circle cx="102.73" cy="222.60" r="2.50" fill="#1f2e52" stroke="none" stroke-width="1"/>
<circle cx="117.03" cy="214.20" r="2.50" fill="#1f2e52" stroke="none" stroke-width="1"/>
<circle cx="152.77" cy="283.50" r="2.50" fill="#1f2e52" stroke="none" stroke-width="1"/>
<circle cx="202.80" cy="286.80" r="2.50" fill="#1f2e52" stroke="none" stroke-width="1"/>
<rect x="100.33" y="239.60" width="4.80" height="4.80" fill="#a6002b" stroke="none" stroke-width="1"/>
<rect x="114.63" y="246.80" width="4.80" height="4.80" fill="#a6002b" stroke="none" stroke-width="1"/>
<rect x="150.37" y="283.80" width="4.80" height="4.80" fill="#a6002b" stroke="none" stroke-width="1"/>
<rect x="200.40" y="289.10" width="4.80" height="4.80" fill="#a6002b" stroke="none" stroke-width="1"/>
<polygon points="102.73,283.90 100.23,288.40 105.23,288.40" fill="#a0143c" stroke="none"/>
<polygon points="117.03,282.20 114.53,286.70 119.53,286.70" fill="#a0143c" stroke="none"/>
<polygon points="152.77,287.90 150.27,292.40 155.27,292.40" fill="#a0143c" stroke="none"/>
<polygon points="202.80,290.10 200.30,294.60 205.30,294.60" fill="#a0143c" stroke="none"/>
<polygon points="102.73,282.21 100.13,277.53 105.33,277.53" fill="#26396a" stroke="none"/>
<polygon points="117.03,281.81 114.43,277.13 119.63,277.13" fill="#26396a" stroke="none"/>
<polygon points="152.77,293.71 150.17,289.03 155.37,289.03" fill="#26396a" stroke="none"/>
<polygon points="202.80,295.01 200.20,290.33 205.40,290.33" fill="#26396a" stroke="none"/>
<circle cx="102.73" cy="270.80" r="1.00" fill="#2f4a7c" stroke="none" stroke-width="1"/>
<circle cx="115.03" cy="273.20" r="1.00" fill="#2f4a7c" stroke="none" stroke-width="1"/>
<circle cx="119.03" cy="273.20" r="1.00" fill="#2f4a7c" stroke="none" stroke-width="1"/>
<circle cx="102.73" cy="292.80" r="1.00" fill="#a6002b" stroke="none" stroke-width="1"/>
<circle cx="115.03" cy="290.80" r="1.00" fill="#a6002b" stroke="none" stroke-width="1"/>
<circle cx="119.03" cy="290.80" r="1.00" fill="#a6002b" stroke="none" stroke-width="1"/>
<line x1="154.30" y1="202.90" x2="156.60" y2="202.90" stroke="#1f2e52" stroke-width="1.7" />
<line x1="164.00" y1="202.90" x2="166.30" y2="202.90" stroke="#1f2e52" stroke-width="1.7" />
<circle cx="160.40" cy="202.90" r="2.30" fill="#1f2e52" stroke="none" stroke-width="1"/>
<line x1="154.30" y1="214.40" x2="166.30" y2="214.40" stroke="#a6002b" stroke-width="1.8" />
<rect x="158.00" y="212.20" width="4.80" height="4.40" fill="#a6002b" stroke="none" stroke-width="1"/>
<line x1="154.30" y1="226.50" x2="156.60" y2="226.50" stroke="#a0143c" stroke-width="1.6" />
<line x1="164.00" y1="226.50" x2="166.30" y2="226.50" stroke="#a0143c" stroke-width="1.6" />
<polygon points="160.40,224.12 158.20,228.08 162.60,228.08" fill="#a0143c" stroke="none"/>
<line x1="154.30" y1="237.50" x2="166.30" y2="237.50" stroke="#26396a" stroke-width="1.7" />
<polygon points="160.40,239.98 158.10,235.84 162.70,235.84" fill="#26396a" stroke="none"/>
<text x="169.90" y="205.50" font-size="7.6" fill="#1e1e1e" stroke="#1e1e1e" stroke-width="0.3" textLength="19.2" lengthAdjust="spacingAndGlyphs">TLR2</text><text x="189.50" y="202.50" font-size="4.8" fill="#1e1e1e" stroke="#1e1e1e" stroke-width="0.3" textLength="4.4" lengthAdjust="spacingAndGlyphs">-/-</text>
<text x="169.90" y="217.20" font-size="7.6" fill="#1e1e1e" stroke="#1e1e1e" stroke-width="0.3" textLength="11.0" lengthAdjust="spacingAndGlyphs">WT</text>
<text x="169.90" y="228.80" font-size="7.6" fill="#1e1e1e" stroke="#1e1e1e" stroke-width="0.3" textLength="24.4" lengthAdjust="spacingAndGlyphs">MyD88</text><text x="194.70" y="225.80" font-size="4.8" fill="#1e1e1e" stroke="#1e1e1e" stroke-width="0.3" textLength="4.4" lengthAdjust="spacingAndGlyphs">-/-</text>
<text x="169.90" y="239.70" font-size="7.6" fill="#1e1e1e" stroke="#1e1e1e" stroke-width="0.3" textLength="19.2" lengthAdjust="spacingAndGlyphs">TLR9</text><text x="189.50" y="236.70" font-size="4.8" fill="#1e1e1e" stroke="#1e1e1e" stroke-width="0.3" textLength="4.4" lengthAdjust="spacingAndGlyphs">-/-</text>
<text x="224.60" y="177.30" font-size="11.8" text-anchor="start" fill="#000" stroke="#000" stroke-width="0.1" font-weight="bold" >D</text>
<rect x="254.20" y="192.80" width="58.40" height="54.80" fill="none" stroke="#000" stroke-width="1.1"/>
<circle cx="290.00" cy="215.50" r="12.80" fill="none" stroke="#000" stroke-width="1.3"/>
<text x="290.00" y="201.00" font-size="6.6" text-anchor="middle" fill="#333">1.78%</text>
<path d="M293.25,240.06 L292.75,240.05 L292.50,239.89 L292.35,239.50 L292.49,239.00 L292.36,238.50 L292.23,238.25 L292.08,237.75 L292.23,237.25 L292.46,237.00 L292.67,236.75 L292.83,236.50 L293.01,236.25 L293.27,236.00 L293.75,235.76 L294.00,235.52 L294.07,235.25 L294.13,234.75 L294.50,234.51 L294.75,234.43 L295.16,234.25 L295.50,234.15 L295.94,234.00 L296.25,233.79 L296.50,233.63 L296.75,233.47 L297.14,233.25 L297.50,233.21 L297.75,233.30 L298.13,233.50 L298.50,233.66 L298.75,233.78 L299.00,234.01 L299.23,234.50 L299.17,235.00 L299.00,235.41 L298.84,235.75 L298.69,236.00 L298.50,236.36 L298.40,236.75 L298.25,237.08 L298.00,237.41 L297.75,237.73 L297.50,237.97 L297.25,238.19 L297.00,238.41 L296.75,238.59 L296.50,238.76 L296.20,239.00 L295.98,239.25 L295.66,239.50 L295.25,239.65 L294.81,239.75 L294.50,239.81 L294.00,239.83 L293.50,239.99 L293.25,240.06 Z" fill="#0a0a0a"/><path d="M286.25,243.01 L285.97,243.00 L285.67,242.75 L285.25,242.58 L284.75,242.69 L284.42,242.75 L284.00,242.77 L283.50,242.84 L283.00,242.81 L282.61,242.75 L282.25,242.72 L282.00,242.80 L281.50,242.80 L281.25,242.51 L281.23,242.25 L281.18,241.75 L280.97,241.50 L280.73,241.25 L280.50,240.78 L280.46,240.50 L280.50,240.11 L280.75,239.83 L280.91,239.50 L280.75,239.10 L280.54,238.75 L280.75,238.45 L281.04,238.25 L281.25,238.00 L281.33,237.50 L281.30,237.00 L281.41,236.50 L281.52,236.25 L281.75,235.84 L282.00,235.57 L282.12,235.25 L282.10,234.75 L282.11,234.25 L282.25,233.92 L282.50,233.61 L282.66,233.25 L282.75,232.89 L282.93,232.50 L283.25,232.40 L283.50,232.56 L283.65,233.00 L283.50,233.40 L283.36,233.75 L283.50,234.22 L283.69,234.50 L283.90,234.75 L284.13,235.00 L284.34,235.25 L284.47,235.75 L284.50,236.02 L284.75,236.26 L285.25,236.45 L285.48,236.75 L285.58,237.00 L285.94,237.25 L286.03,237.25 L286.50,237.04 L286.75,236.96 L287.25,236.88 L287.50,237.03 L288.00,237.22 L288.50,237.00 L288.75,236.87 L289.25,236.91 L289.75,236.87 L290.00,236.69 L290.27,236.50 L290.75,236.29 L291.00,236.16 L291.25,235.92 L291.50,235.64 L291.75,235.40 L292.00,235.18 L292.25,234.97 L292.63,234.75 L292.95,234.50 L293.01,234.25 L292.81,234.00 L292.62,233.75 L293.00,233.65 L293.47,233.50 L293.75,233.30 L293.99,233.00 L294.19,232.75 L294.43,232.50 L294.72,232.25 L295.00,232.13 L295.50,232.14 L295.85,232.00 L296.25,231.85 L296.70,231.75 L297.00,231.69 L297.50,231.56 L297.75,231.45 L298.25,231.45 L298.50,231.52 L298.96,231.75 L299.25,231.92 L299.50,232.02 L299.97,232.25 L300.14,232.50 L300.33,232.75 L300.75,232.99 L301.00,233.12 L301.08,233.50 L300.91,233.75 L300.94,234.25 L301.09,234.50 L301.09,235.00 L300.86,235.25 L300.64,235.50 L300.50,235.80 L300.34,236.25 L300.20,236.50 L300.00,236.96 L299.80,237.25 L299.57,237.50 L299.41,237.75 L299.25,238.06 L299.00,238.40 L298.75,238.52 L298.25,238.69 L298.08,239.00 L298.00,239.48 L297.81,239.75 L297.50,240.00 L297.25,240.01 L296.75,240.18 L296.50,240.36 L296.25,240.56 L295.84,240.75 L295.50,240.77 L295.00,240.92 L294.75,241.07 L294.46,241.25 L294.06,241.50 L293.75,241.68 L293.50,241.76 L293.00,241.79 L292.75,241.72 L292.27,241.50 L292.16,241.50 L291.75,241.69 L291.50,241.75 L291.00,241.75 L290.50,241.78 L290.09,242.00 L289.76,242.25 L289.50,242.48 L289.25,242.67 L288.75,242.66 L288.49,242.50 L288.00,242.38 L287.50,242.46 L287.25,242.60 L287.00,242.77 L286.50,242.92 L286.25,243.01 M279.00,238.26 L279.30,238.50 L279.36,239.00 L279.00,239.08 M283.25,242.26 L283.00,242.20 L282.75,241.94 L282.50,241.56 L282.25,241.30 L282.00,241.03 L281.81,240.75 L281.71,240.50 L281.75,240.05 L281.91,239.75 L282.00,239.50 L281.90,239.25 L281.68,239.00 L281.70,238.50 L281.83,238.25 L281.87,237.75 L281.82,237.25 L281.84,236.75 L282.00,236.47 L282.25,236.18 L282.50,235.85 L282.65,235.50 L282.75,235.11 L283.00,234.77 L283.48,235.00 L283.66,235.25 L283.80,235.50 L283.90,236.00 L284.00,236.38 L284.25,236.69 L284.50,236.90 L284.74,237.25 L284.83,237.50 L285.10,237.75 L285.50,237.88 L285.83,238.00 L286.25,238.19 L286.50,238.26 L287.00,238.34 L287.50,238.35 L287.75,238.13 L288.00,237.95 L288.50,237.75 L288.75,237.70 L289.12,237.75 L289.50,237.86 L290.00,237.79 L290.27,238.00 L290.75,238.14 L291.00,237.99 L291.16,237.50 L291.25,237.19 L291.47,236.75 L291.60,236.50 L291.75,236.16 L292.00,235.75 L292.23,235.50 L292.50,235.27 L292.75,235.12 L293.03,235.00 L293.29,234.75 L293.50,234.29 L293.69,234.00 L294.00,233.78 L294.25,233.67 L294.75,233.53 L295.02,233.50 L295.50,233.33 L295.75,233.09 L296.00,232.77 L296.25,232.58 L296.50,232.44 L297.00,232.29 L297.50,232.31 L297.84,232.25 L298.25,232.05 L298.75,232.18 L299.00,232.29 L299.50,232.50 L299.75,232.75 L299.92,233.00 L300.15,233.25 L300.32,233.50 L300.42,234.00 L300.50,234.25 L300.60,234.75 L300.47,235.00 L300.25,235.27 L300.00,235.63 L299.75,235.93 L299.52,236.25 L299.44,236.50 L299.28,237.00 L299.16,237.25 L299.00,237.57 L298.75,237.92 L298.50,238.08 L298.19,238.25 L297.84,238.50 L297.63,238.75 L297.46,239.00 L297.11,239.25 L296.75,239.47 L296.50,239.72 L296.25,239.95 L296.00,240.15 L295.75,240.26 L295.25,240.42 L295.00,240.53 L294.58,240.75 L294.25,240.92 L294.00,241.04 L293.57,241.25 L293.25,241.35 L292.75,241.27 L292.50,241.17 L292.08,241.00 L291.75,240.97 L291.50,241.04 L291.19,241.00 L291.00,240.62 L290.75,240.26 L290.50,240.12 L290.00,240.14 L289.80,240.50 L289.69,240.75 L289.50,241.02 L289.22,241.25 L288.86,241.50 L288.50,241.67 L288.00,241.62 L287.73,241.50 L287.25,241.43 L286.98,241.50 L286.61,241.50 L286.45,241.50 L286.00,241.62 L285.50,241.69 L285.00,241.72 L284.75,241.97 L284.50,242.13 L284.00,242.14 L283.50,242.23 L283.25,242.26 M293.25,240.85 L292.75,240.88 L292.45,240.75 L292.01,240.50 L291.75,240.35 L291.50,240.19 L291.21,240.00 L290.80,239.75 L290.50,239.51 L290.33,239.25 L290.50,239.00 L290.76,238.75 L291.09,238.50 L291.38,238.25 L291.50,237.94 L291.55,237.50 L291.74,237.00 L291.93,236.75 L292.11,236.50 L292.25,236.21 L292.50,235.83 L292.75,235.59 L293.00,235.47 L293.50,235.28 L293.62,235.00 L293.75,234.55 L294.00,234.25 L294.25,234.13 L294.73,234.00 L295.00,233.89 L295.50,233.77 L295.75,233.67 L296.07,233.50 L296.48,233.25 L296.75,233.00 L297.00,232.81 L297.25,232.74 L297.63,232.75 L298.00,232.81 L298.38,233.00 L298.75,233.21 L299.00,233.32 L299.37,233.50 L299.72,233.75 L299.90,234.00 L300.01,234.25 L300.00,234.66 L299.79,235.00 L299.60,235.25 L299.44,235.50 L299.25,235.85 L299.06,236.25 L298.95,236.50 L298.77,237.00 L298.66,237.25 L298.47,237.50 L298.22,237.75 L297.97,238.00 L297.68,238.25 L297.39,238.50 L297.12,238.75 L296.77,239.00 L296.50,239.22 L296.25,239.49 L296.00,239.72 L295.75,239.87 L295.37,240.00 L295.00,240.14 L294.75,240.26 L294.25,240.45 L294.00,240.55 L293.50,240.74 L293.25,240.85 M286.75,241.04 L286.25,241.14 L285.75,241.17 L285.33,241.00 L285.03,241.00 L284.75,241.10 L284.32,241.00 L284.17,240.75 L284.00,240.45 L283.50,240.34 L283.17,240.50 L282.81,240.75 L282.70,240.75 L282.34,240.50 L282.33,240.00 L282.46,239.50 L282.46,239.00 L282.50,238.74 L282.65,238.25 L282.71,237.75 L283.00,237.62 L283.18,238.00 L283.28,238.25 L283.50,238.60 L283.75,238.76 L284.25,238.87 L284.70,239.00 L285.00,239.05 L285.25,238.95 L285.75,238.83 L286.25,238.98 L286.75,238.97 L287.00,239.13 L287.25,239.35 L287.75,239.41 L288.25,239.28 L288.75,239.32 L289.09,239.50 L289.09,240.00 L288.75,240.12 L288.25,240.08 L288.00,240.38 L287.75,240.64 L287.34,240.75 L287.00,240.89 L286.75,241.04" fill="none" stroke="#0a0a0a" stroke-width="0.95" stroke-linejoin="round"/><path d="M285.50,227.37 L285.00,227.27 L284.90,227.00 L285.00,226.61 L285.23,226.25 L285.32,226.00 L285.49,225.50 L285.73,225.25 L286.00,225.05 L286.22,224.75 L286.27,224.50 L286.31,224.00 L286.50,223.67 L286.75,223.41 L287.00,223.07 L287.25,222.77 L287.50,222.50 L287.75,222.25 L288.00,222.01 L288.25,221.76 L288.50,221.50 L288.70,221.25 L288.88,221.00 L289.12,220.75 L289.37,220.50 L289.57,220.25 L289.79,220.00 L290.09,219.75 L290.46,219.50 L290.75,219.31 L291.00,219.11 L291.25,218.84 L291.50,218.59 L291.75,218.40 L292.01,218.25 L292.34,218.00 L292.64,217.75 L293.00,217.54 L293.25,217.43 L293.73,217.25 L294.00,217.18 L294.31,217.25 L294.51,217.50 L294.52,218.00 L294.47,218.25 L294.25,218.74 L294.07,219.00 L293.84,219.25 L293.58,219.50 L293.35,219.75 L293.17,220.00 L293.00,220.31 L292.75,220.71 L292.51,221.00 L292.34,221.25 L292.15,221.50 L291.90,221.75 L291.68,222.00 L291.50,222.27 L291.25,222.66 L291.00,222.94 L290.75,223.18 L290.50,223.42 L290.25,223.65 L290.00,223.82 L289.74,224.00 L289.43,224.25 L289.14,224.50 L288.92,224.75 L288.75,225.01 L288.50,225.33 L288.23,225.50 L287.80,225.75 L287.50,225.96 L287.25,226.20 L287.03,226.50 L286.75,226.73 L286.50,226.81 L286.02,227.00 L285.75,227.25 L285.50,227.37" fill="none" stroke="#666" stroke-width="0.6" stroke-linejoin="round"/><path d="M286.6,225.6 L293.2,218.4" stroke="#1a1a1a" stroke-width="1.6" stroke-dasharray="1.4 0.9" fill="none"/>
<rect x="317.20" y="192.80" width="59.20" height="54.10" fill="none" stroke="#000" stroke-width="1.1"/>
<circle cx="353.10" cy="215.00" r="13.00" fill="none" stroke="#000" stroke-width="1.3"/>
<text x="353.10" y="201.00" font-size="6.6" text-anchor="middle" fill="#333">2.43%</text>
<path d="M355.50,239.27 L355.24,239.25 L354.75,239.04 L354.52,238.75 L354.75,238.32 L354.75,238.02 L354.50,237.85 L354.25,237.70 L353.91,237.50 L353.94,237.00 L354.25,236.80 L354.50,236.59 L354.71,236.25 L354.75,235.84 L354.81,235.50 L354.98,235.00 L355.11,234.75 L355.27,234.50 L355.56,234.25 L355.99,234.00 L356.25,233.80 L356.50,233.57 L356.75,233.36 L357.00,233.17 L357.25,232.92 L357.50,232.69 L358.00,232.60 L358.50,232.69 L358.75,232.89 L359.05,232.75 L359.35,232.50 L359.75,232.40 L360.00,232.50 L360.50,232.69 L360.75,232.77 L361.09,233.00 L361.21,233.50 L361.15,234.00 L361.23,234.50 L361.29,234.75 L361.32,235.25 L361.18,235.50 L360.94,235.75 L360.70,236.00 L360.46,236.25 L360.12,236.50 L359.75,236.70 L359.50,236.88 L359.26,237.25 L359.12,237.50 L358.85,237.75 L358.50,237.95 L358.25,238.04 L357.75,238.18 L357.50,238.28 L357.13,238.50 L356.78,238.75 L356.50,238.89 L356.18,239.00 L355.75,239.18 L355.50,239.27 Z M353.50,238.75 L353.25,238.58 L353.14,238.25 L353.50,238.03 L353.80,238.25 L353.75,238.68 L353.50,238.75 Z" fill="#0a0a0a"/><path d="M347.75,242.50 L347.50,242.44 L347.00,242.34 L346.50,242.43 L346.25,242.59 L345.75,242.68 L345.42,242.50 L345.23,242.25 L345.06,241.75 L345.00,241.47 L344.79,241.00 L344.62,240.75 L344.43,240.50 L344.25,240.02 L344.11,239.75 L343.77,239.75 L343.50,239.77 L343.29,239.50 L343.37,239.00 L343.55,238.75 L343.78,238.50 L344.14,238.25 L344.50,238.08 L344.75,237.97 L344.98,237.50 L344.82,237.00 L344.81,236.50 L345.00,236.06 L345.16,235.75 L345.33,235.50 L345.50,235.25 L345.64,234.75 L345.50,234.38 L345.25,234.12 L345.11,233.75 L345.25,233.36 L345.50,233.12 L346.00,233.22 L346.50,233.00 L346.75,232.89 L347.00,233.07 L347.27,233.25 L347.35,233.75 L347.28,234.25 L347.49,234.75 L347.58,235.00 L347.75,235.50 L347.93,235.75 L348.25,236.00 L348.50,236.14 L348.75,236.29 L349.25,236.41 L349.74,236.50 L350.00,236.73 L350.25,236.94 L350.75,236.96 L351.25,236.98 L351.75,236.89 L352.14,236.75 L352.36,236.50 L352.36,236.00 L352.27,235.50 L352.50,235.21 L352.75,234.98 L353.00,234.61 L353.16,234.25 L353.34,234.00 L353.65,233.75 L354.00,233.53 L354.25,233.39 L354.50,233.21 L354.97,233.00 L355.25,232.94 L355.74,232.75 L356.00,232.50 L356.12,232.25 L356.26,232.00 L356.50,231.68 L356.99,231.50 L357.25,231.46 L357.75,231.32 L358.00,231.01 L358.24,230.75 L358.50,230.59 L359.00,230.63 L359.27,230.75 L359.75,230.78 L360.00,230.61 L360.25,230.44 L360.75,230.35 L361.00,230.24 L361.50,230.20 L361.75,230.39 L361.93,230.75 L362.10,231.00 L362.50,231.17 L362.75,231.30 L363.12,231.50 L363.45,231.75 L363.72,232.00 L363.82,232.25 L363.79,232.75 L363.69,233.00 L363.48,233.25 L363.25,233.51 L363.05,234.00 L362.94,234.25 L362.80,234.75 L362.75,235.25 L362.75,235.50 L362.59,236.00 L362.43,236.25 L362.25,236.60 L362.00,236.92 L361.75,237.15 L361.50,237.37 L361.25,237.54 L360.90,237.75 L360.58,238.00 L360.25,238.22 L360.00,238.41 L359.75,238.74 L359.50,238.97 L359.25,239.10 L358.99,239.25 L358.75,239.50 L358.50,239.86 L358.25,240.11 L357.91,240.25 L357.50,240.39 L357.19,240.50 L356.75,240.67 L356.50,240.79 L356.23,241.00 L355.96,241.25 L355.50,241.41 L355.00,241.30 L354.59,241.25 L354.27,241.00 L354.00,240.94 L353.75,241.11 L353.50,241.41 L353.25,241.69 L353.00,241.88 L352.72,242.00 L352.25,242.16 L351.93,242.25 L351.50,242.29 L351.00,242.28 L350.75,242.25 L350.47,242.25 L350.00,242.30 L349.62,242.25 L349.25,242.21 L348.75,242.01 L348.50,242.00 L348.26,242.25 L348.00,242.48 L347.75,242.50 M350.50,241.50 L350.25,241.49 L349.98,241.50 L349.50,241.56 L349.24,241.50 L348.88,241.25 L348.50,241.11 L348.00,241.16 L347.50,241.25 L347.25,241.35 L346.89,241.50 L346.50,241.58 L346.00,241.58 L345.75,241.31 L345.55,241.00 L345.41,240.75 L345.27,240.25 L345.30,239.75 L345.27,239.25 L345.30,238.75 L345.32,238.25 L345.38,237.75 L345.35,237.25 L345.34,236.75 L345.44,236.25 L345.55,236.00 L345.79,235.75 L346.10,235.50 L346.25,235.08 L346.50,234.80 L347.00,234.89 L347.25,235.13 L347.41,235.50 L347.50,235.81 L347.64,236.25 L347.77,236.50 L347.90,237.00 L348.00,237.25 L348.25,237.12 L348.75,237.08 L349.25,237.22 L349.50,237.30 L349.87,237.50 L350.25,237.61 L350.75,237.61 L351.16,237.50 L351.50,237.37 L351.88,237.25 L352.25,237.12 L352.50,236.95 L352.75,236.63 L352.92,236.25 L353.11,236.00 L353.38,235.75 L353.51,235.50 L353.68,235.00 L353.88,234.75 L354.12,234.50 L354.36,234.25 L354.56,234.00 L354.75,233.71 L355.00,233.49 L355.50,233.39 L355.80,233.25 L356.12,233.00 L356.39,232.75 L356.53,232.50 L356.75,232.06 L357.00,231.88 L357.50,231.80 L357.84,231.75 L358.19,231.50 L358.45,231.25 L358.75,231.14 L359.25,231.21 L359.75,231.19 L360.25,231.05 L360.75,231.13 L361.11,231.25 L361.48,231.50 L361.61,231.75 L361.63,232.25 L361.80,232.50 L362.03,232.75 L362.27,233.00 L362.52,233.25 L362.72,233.75 L362.55,234.25 L362.46,234.50 L362.34,235.00 L362.25,235.30 L362.04,235.75 L361.85,236.00 L361.64,236.25 L361.44,236.50 L361.25,236.77 L361.00,237.07 L360.50,237.24 L360.25,237.32 L360.00,237.52 L359.75,237.93 L359.50,238.23 L359.26,238.50 L359.00,238.70 L358.75,238.85 L358.50,239.06 L358.25,239.29 L357.89,239.50 L357.50,239.72 L357.25,239.88 L356.80,240.00 L356.50,240.09 L356.25,240.26 L355.75,240.48 L355.25,240.42 L354.75,240.32 L354.44,240.25 L354.00,240.19 L353.65,240.25 L353.25,240.50 L353.05,240.75 L352.79,241.00 L352.50,241.15 L352.00,241.12 L351.50,241.18 L351.25,241.29 L350.75,241.48 L350.50,241.50 M351.00,240.75 L350.50,240.81 L350.00,240.88 L349.56,240.75 L349.25,240.52 L349.00,240.44 L348.50,240.47 L348.00,240.47 L347.75,240.54 L347.25,240.72 L346.75,240.58 L346.69,240.25 L346.50,239.97 L346.03,239.75 L345.84,239.50 L345.80,239.00 L345.83,238.50 L345.87,238.00 L346.08,237.75 L346.50,237.62 L346.75,237.47 L346.95,237.00 L347.12,237.00 L347.11,237.50 L347.25,237.76 L347.75,237.89 L348.25,237.82 L348.74,238.00 L348.98,238.25 L349.25,238.32 L349.50,238.25 L350.00,238.15 L350.50,238.18 L350.75,238.25 L351.25,238.41 L351.53,238.25 L351.75,237.89 L352.00,237.70 L352.41,237.50 L352.75,237.25 L353.00,237.01 L353.20,236.75 L353.41,236.50 L353.75,236.31 L354.00,236.04 L354.01,235.75 L354.21,235.25 L354.41,235.00 L354.57,234.75 L354.75,234.49 L355.00,234.16 L355.25,233.94 L355.75,233.77 L356.00,233.59 L356.25,233.34 L356.50,233.11 L356.75,232.83 L356.90,232.50 L357.08,232.25 L357.50,232.12 L358.00,232.09 L358.25,231.99 L358.75,231.92 L359.25,231.94 L359.74,231.75 L360.00,231.69 L360.28,231.75 L360.54,232.00 L360.81,232.25 L361.18,232.50 L361.47,232.75 L361.66,233.00 L361.79,233.25 L362.00,233.61 L362.10,234.00 L361.99,234.25 L361.79,234.75 L361.78,235.25 L361.67,235.50 L361.46,235.75 L361.22,236.00 L361.00,236.27 L360.75,236.57 L360.50,236.76 L360.00,236.99 L359.75,237.24 L359.62,237.50 L359.48,237.75 L359.24,238.00 L358.89,238.25 L358.50,238.43 L358.21,238.50 L357.75,238.65 L357.50,238.80 L357.25,239.09 L357.00,239.29 L356.50,239.42 L356.25,239.52 L355.94,239.75 L355.50,239.92 L355.00,239.87 L354.50,239.79 L354.25,239.73 L353.75,239.55 L353.25,239.50 L352.84,239.75 L352.50,239.93 L352.00,239.78 L351.75,239.74 L351.50,239.78 L351.34,240.25 L351.25,240.55 L351.00,240.75 M348.57,239.00 L348.50,238.75 L348.00,238.70 L347.50,238.74 L347.35,239.00 L347.75,239.06 L348.25,239.05 L348.57,239.00 M350.98,239.50 L351.10,239.25 L350.98,239.00 L350.50,238.96 L350.00,238.99 L349.78,239.25 L350.21,239.50 L350.50,239.54 L350.98,239.50" fill="none" stroke="#0a0a0a" stroke-width="0.95" stroke-linejoin="round"/><ellipse cx="352.3" cy="221.2" rx="4.3" ry="1.15" transform="rotate(-34 352.3 221.2)" fill="#1a1a1a" /><ellipse cx="349.2" cy="223.6" rx="1.3" ry="0.7" transform="rotate(-34 349.2 223.6)" fill="#555" />
<rect x="254.50" y="263.40" width="59.20" height="53.60" fill="none" stroke="#000" stroke-width="1.1"/>
<circle cx="289.60" cy="284.30" r="10.90" fill="none" stroke="#000" stroke-width="1.3"/>
<text x="289.60" y="271.60" font-size="6.6" text-anchor="middle" fill="#333">0.32%</text>
<path d="M293.50,306.09 L293.25,305.96 L293.09,305.50 L293.08,305.00 L293.07,304.50 L293.14,304.00 L293.21,303.50 L293.27,303.25 L293.50,302.80 L293.63,302.50 L293.76,302.25 L293.87,301.75 L293.94,301.25 L294.00,300.86 L294.14,300.50 L294.34,300.25 L294.54,300.00 L294.74,299.50 L294.89,299.25 L295.14,299.00 L295.45,298.75 L295.66,298.50 L295.80,298.25 L296.00,297.97 L296.25,297.73 L296.61,297.50 L297.00,297.38 L297.50,297.47 L297.75,297.57 L298.25,297.63 L298.72,297.75 L299.00,297.94 L299.08,298.25 L299.03,298.75 L299.08,299.25 L299.23,299.75 L299.26,300.00 L299.26,300.50 L299.24,300.75 L299.09,301.25 L298.93,301.50 L298.75,301.92 L298.58,302.25 L298.36,302.50 L298.19,302.75 L298.00,303.17 L297.87,303.50 L297.74,303.75 L297.50,304.10 L297.25,304.38 L297.00,304.60 L296.75,304.78 L296.46,305.00 L296.10,305.25 L295.79,305.50 L295.61,305.75 L295.25,305.99 L294.75,305.93 L294.32,305.75 L294.12,305.75 L293.75,305.97 L293.50,306.09 Z" fill="#0a0a0a"/><path d="M287.00,312.89 L286.50,312.94 L286.00,312.78 L285.75,312.71 L285.25,312.69 L284.75,312.71 L284.38,312.50 L284.25,312.20 L284.08,311.75 L283.83,311.50 L283.58,311.25 L283.51,310.75 L283.25,310.68 L283.00,310.41 L282.75,310.01 L282.64,309.75 L282.75,309.49 L283.21,309.25 L283.50,309.09 L283.75,308.83 L284.00,308.56 L284.25,308.30 L284.50,308.11 L284.75,307.92 L285.00,307.72 L285.50,307.66 L286.00,307.72 L286.26,307.50 L286.50,307.18 L286.66,306.75 L286.77,306.50 L287.00,306.17 L287.28,306.00 L287.56,305.75 L287.78,305.50 L288.09,305.50 L288.50,305.68 L288.82,305.50 L289.01,305.25 L289.25,304.93 L289.50,304.72 L289.95,304.50 L290.25,304.41 L290.75,304.45 L291.22,304.25 L291.06,303.75 L291.00,303.41 L291.00,303.16 L291.25,302.87 L291.70,302.75 L291.79,302.50 L291.79,302.00 L291.97,301.50 L292.22,301.25 L292.49,301.00 L292.61,300.75 L292.73,300.25 L292.77,300.00 L293.00,299.58 L293.20,299.25 L293.31,299.00 L293.50,298.67 L293.75,298.27 L294.00,298.08 L294.25,297.97 L294.70,297.75 L294.91,297.50 L295.09,297.25 L295.38,297.00 L295.75,296.79 L296.00,296.64 L296.25,296.42 L296.41,296.00 L296.50,295.69 L296.75,295.50 L297.25,295.32 L297.50,295.22 L297.94,295.00 L298.25,294.84 L298.46,294.50 L298.53,294.25 L298.94,294.25 L299.13,294.50 L299.00,294.86 L299.00,295.07 L299.50,295.01 L299.75,294.85 L300.00,294.67 L300.50,294.58 L300.75,294.75 L300.75,295.25 L300.72,295.50 L300.71,296.00 L300.50,296.50 L300.30,296.75 L300.50,297.06 L300.83,297.25 L300.98,297.75 L300.83,298.25 L300.88,298.75 L301.00,299.25 L301.03,299.50 L301.10,300.00 L301.08,300.50 L301.15,301.00 L300.86,301.25 L300.50,301.39 L300.43,301.75 L300.43,302.25 L300.25,302.62 L300.00,302.79 L299.63,303.00 L299.32,303.25 L299.15,303.50 L299.08,304.00 L299.12,304.50 L298.95,304.75 L298.64,305.00 L298.34,305.25 L298.00,305.41 L297.75,305.52 L297.54,306.00 L297.61,306.50 L297.49,306.75 L297.00,306.89 L296.75,307.10 L296.50,307.40 L296.25,307.56 L295.86,307.50 L295.50,307.43 L295.14,307.50 L294.88,307.75 L294.59,308.00 L294.25,308.21 L294.00,308.42 L293.82,308.75 L293.68,309.00 L293.25,309.15 L292.89,309.25 L292.73,309.50 L292.71,310.00 L292.50,310.31 L292.05,310.50 L291.75,310.61 L291.25,310.65 L290.75,310.62 L290.25,310.70 L290.00,310.82 L289.78,311.25 L289.70,311.50 L289.50,311.77 L289.00,311.82 L288.75,311.63 L288.50,311.49 L288.17,311.50 L287.75,311.74 L287.53,312.00 L287.36,312.25 L287.23,312.50 L287.00,312.89 M286.50,311.61 L286.00,311.58 L285.75,311.46 L285.25,311.29 L285.00,311.11 L284.75,310.75 L285.00,310.46 L285.17,310.00 L285.25,309.63 L285.32,309.25 L285.50,308.83 L285.75,308.71 L286.11,308.50 L286.34,308.25 L286.50,308.00 L286.75,307.70 L287.00,307.37 L287.16,307.00 L287.29,306.75 L287.55,306.50 L288.00,306.26 L288.50,306.32 L289.00,306.36 L289.25,306.16 L289.31,305.75 L289.50,305.42 L289.87,305.25 L290.25,305.10 L290.75,305.00 L291.00,304.97 L291.50,304.92 L292.00,304.84 L292.16,304.50 L292.05,304.00 L291.91,303.75 L292.00,303.39 L292.17,303.00 L292.25,302.66 L292.26,302.25 L292.44,301.75 L292.64,301.50 L292.81,301.25 L293.00,300.80 L293.12,300.50 L293.27,300.25 L293.50,300.00 L293.75,299.63 L293.92,299.25 L294.12,299.00 L294.32,298.75 L294.50,298.49 L294.75,298.21 L295.00,297.92 L295.25,297.55 L295.50,297.27 L295.75,297.09 L296.00,296.98 L296.50,296.78 L296.75,296.63 L297.00,296.49 L297.25,296.21 L297.50,295.96 L298.00,295.96 L298.25,296.08 L298.75,296.23 L299.19,296.00 L299.50,295.80 L299.75,295.65 L300.09,295.75 L300.00,296.10 L299.61,296.25 L299.33,296.50 L299.50,296.88 L299.75,297.14 L300.00,297.37 L300.25,297.72 L300.28,298.00 L300.37,298.50 L300.50,298.79 L300.61,299.25 L300.56,299.75 L300.50,300.16 L300.32,300.50 L300.17,300.75 L300.00,301.04 L299.81,301.50 L299.72,301.75 L299.65,302.25 L299.50,302.53 L299.25,302.78 L298.99,303.00 L298.75,303.35 L298.60,303.75 L298.50,304.04 L298.31,304.50 L298.11,304.75 L297.83,305.00 L297.50,305.22 L297.25,305.35 L296.79,305.50 L296.63,305.75 L296.65,306.25 L296.50,306.52 L296.25,306.83 L295.75,306.98 L295.25,306.92 L294.92,307.00 L294.57,307.25 L294.33,307.50 L294.09,307.75 L293.75,307.95 L293.50,308.02 L293.04,308.25 L292.75,308.47 L292.50,308.62 L292.25,308.97 L292.14,309.25 L292.00,309.54 L291.54,309.50 L291.27,309.25 L291.23,309.25 L290.86,309.50 L290.72,309.75 L290.50,310.01 L290.00,310.13 L289.50,310.22 L289.25,310.43 L289.00,310.58 L288.50,310.52 L288.00,310.58 L287.59,310.75 L287.34,311.00 L287.10,311.25 L286.75,311.39 L286.50,311.61 M289.82,309.25 L289.70,309.25 L289.82,309.25 M287.25,310.26 L287.00,310.25 L286.59,310.00 L286.68,309.50 L286.75,309.10 L286.85,308.75 L286.99,308.25 L287.14,308.00 L287.37,307.75 L287.58,307.50 L287.82,307.25 L288.15,307.00 L288.50,306.87 L289.00,306.93 L289.39,307.00 L289.75,307.02 L290.00,306.82 L290.00,306.50 L289.94,306.25 L290.04,306.00 L290.50,305.90 L290.87,306.00 L290.83,306.50 L290.64,306.75 L290.67,307.25 L290.85,307.50 L291.25,307.55 L291.49,307.25 L291.54,307.00 L291.63,306.50 L291.60,306.00 L291.43,305.75 L291.61,305.50 L292.00,305.49 L292.25,305.53 L292.50,305.44 L292.63,305.00 L292.67,304.50 L292.66,304.00 L292.55,303.50 L292.66,303.00 L292.77,302.75 L292.85,302.25 L293.00,301.77 L293.14,301.50 L293.25,301.23 L293.45,300.75 L293.60,300.50 L293.80,300.25 L294.05,300.00 L294.25,299.73 L294.49,299.25 L294.67,299.00 L294.89,298.75 L295.07,298.50 L295.25,298.17 L295.50,297.75 L295.72,297.50 L296.00,297.33 L296.25,297.23 L296.75,297.04 L297.00,296.98 L297.50,296.92 L298.00,296.77 L298.25,296.75 L298.50,296.80 L298.94,297.00 L299.24,297.25 L299.49,297.50 L299.62,297.75 L299.68,298.25 L299.80,298.50 L300.00,298.77 L300.11,299.25 L299.96,299.50 L299.75,299.76 L299.70,300.25 L299.68,300.75 L299.53,301.25 L299.41,301.50 L299.25,301.78 L299.11,302.25 L298.93,302.50 L298.66,302.75 L298.47,303.00 L298.26,303.50 L298.17,303.75 L298.00,304.14 L297.75,304.49 L297.50,304.73 L297.25,304.89 L296.99,305.00 L296.58,305.25 L296.29,305.50 L296.13,305.75 L296.03,306.25 L295.75,306.49 L295.25,306.44 L294.75,306.43 L294.36,306.50 L294.00,306.68 L293.78,307.00 L293.65,307.25 L293.25,307.30 L292.75,307.28 L292.25,307.47 L292.13,307.75 L291.95,308.00 L291.50,308.25 L291.25,308.41 L291.00,308.65 L290.75,308.80 L290.39,308.75 L290.03,308.50 L289.75,308.42 L289.50,308.60 L289.25,308.88 L289.00,309.25 L288.92,309.50 L288.75,309.96 L288.50,310.06 L288.00,310.15 L287.50,310.25 L287.25,310.26" fill="none" stroke="#0a0a0a" stroke-width="0.95" stroke-linejoin="round"/>
<rect x="317.20" y="262.90" width="59.20" height="54.40" fill="none" stroke="#000" stroke-width="1.1"/>
<circle cx="351.60" cy="284.60" r="10.90" fill="none" stroke="#000" stroke-width="1.3"/>
<text x="351.60" y="271.10" font-size="6.6" text-anchor="middle" fill="#333">0.22%</text>
<path d="M357.00,306.02 L356.68,306.00 L356.32,305.75 L356.15,305.50 L356.10,305.00 L356.24,304.50 L356.08,304.00 L356.02,303.50 L356.25,303.03 L356.40,302.75 L356.51,302.50 L356.58,302.00 L356.57,301.50 L356.75,301.08 L356.96,300.75 L357.07,300.50 L357.25,300.06 L357.42,299.75 L357.59,299.50 L357.76,299.25 L358.00,298.95 L358.25,298.74 L358.53,298.50 L358.75,298.22 L359.02,298.00 L359.50,297.80 L359.75,297.64 L360.07,297.50 L360.50,297.41 L360.78,297.50 L361.07,297.75 L361.30,298.00 L361.50,298.27 L361.75,298.71 L361.89,299.00 L361.94,299.50 L361.84,300.00 L361.72,300.25 L361.50,300.69 L361.43,301.00 L361.30,301.50 L361.10,301.75 L360.92,302.00 L360.75,302.34 L360.61,302.75 L360.50,303.04 L360.25,303.42 L360.00,303.71 L359.76,304.00 L359.50,304.22 L359.25,304.37 L358.98,304.50 L358.50,304.69 L358.25,304.79 L357.93,305.00 L357.64,305.25 L357.39,305.50 L357.23,305.75 L357.00,306.02 Z" fill="#0a0a0a"/><path d="M348.50,312.77 L348.00,312.75 L348.00,312.75 L347.50,312.85 L347.00,312.82 L346.75,312.57 L346.56,312.25 L346.54,311.75 L346.50,311.39 L346.25,311.04 L346.00,310.82 L345.76,310.50 L345.65,310.25 L345.75,309.90 L346.16,309.75 L346.50,309.67 L346.75,309.36 L346.94,309.00 L347.19,308.75 L347.44,308.50 L347.61,308.25 L347.79,308.00 L348.10,307.75 L348.50,307.56 L348.75,307.48 L349.25,307.31 L349.50,307.21 L349.75,306.97 L350.00,306.66 L350.26,306.50 L350.75,306.30 L351.00,306.11 L351.25,305.82 L351.50,305.51 L351.75,305.32 L352.00,305.17 L352.25,304.94 L352.50,304.70 L352.85,304.50 L353.25,304.28 L353.50,304.15 L353.75,303.95 L354.00,303.53 L354.25,303.34 L354.49,303.00 L354.57,302.75 L354.75,302.34 L354.92,302.00 L355.04,301.75 L355.08,301.25 L355.07,300.75 L355.34,300.50 L355.64,300.25 L355.82,300.00 L356.00,299.67 L356.18,299.25 L356.25,298.86 L356.25,298.50 L356.38,298.00 L356.75,297.79 L357.00,297.71 L357.27,297.50 L357.53,297.25 L357.87,297.00 L358.09,296.75 L358.22,296.25 L358.41,296.00 L358.75,295.83 L359.00,295.72 L359.50,295.59 L359.82,295.50 L360.17,295.25 L360.50,295.06 L360.75,295.00 L361.25,294.93 L361.75,294.98 L362.00,295.07 L362.48,295.25 L362.75,295.45 L363.00,295.71 L363.20,296.00 L363.25,296.25 L363.23,296.50 L363.27,296.75 L363.50,297.25 L363.55,297.50 L363.60,298.00 L363.60,298.50 L363.50,298.81 L363.27,299.25 L363.16,299.50 L363.00,299.82 L362.91,300.25 L362.83,300.75 L362.65,301.00 L362.47,301.25 L362.36,301.75 L362.21,302.00 L362.00,302.28 L361.75,302.75 L361.72,303.00 L361.75,303.35 L361.75,303.57 L361.50,303.77 L361.21,304.00 L361.00,304.37 L360.75,304.75 L360.59,305.00 L360.42,305.25 L360.25,305.51 L360.00,305.83 L359.75,306.01 L359.25,306.25 L359.00,306.39 L358.50,306.47 L358.25,306.58 L358.00,306.97 L357.95,307.25 L357.75,307.52 L357.34,307.75 L357.01,308.00 L356.75,308.22 L356.50,308.30 L356.00,308.37 L355.75,308.55 L355.50,308.93 L355.25,309.18 L355.00,309.26 L354.53,309.50 L354.25,309.73 L354.00,309.83 L353.50,309.78 L353.15,310.00 L353.00,310.41 L352.78,310.75 L352.50,310.88 L352.21,311.00 L351.77,311.25 L351.60,311.50 L351.45,311.75 L351.13,312.00 L350.75,312.14 L350.50,312.26 L350.00,312.37 L349.75,312.24 L349.40,312.00 L349.04,312.00 L348.88,312.25 L348.75,312.56 L348.50,312.77 M347.35,310.25 L347.25,309.83 L347.00,309.69 L346.82,310.00 L347.00,310.29 L347.35,310.25 M348.00,312.07 L347.50,312.09 L347.25,311.79 L347.19,311.50 L347.28,311.25 L347.74,311.00 L347.98,310.75 L347.84,310.25 L347.75,309.77 L347.74,309.50 L347.75,309.25 L347.83,308.75 L348.00,308.41 L348.25,308.16 L348.56,308.00 L349.00,307.81 L349.50,307.78 L350.00,307.94 L350.24,307.50 L350.26,307.25 L350.50,306.85 L350.75,306.69 L351.10,306.50 L351.50,306.26 L351.75,306.08 L352.00,305.95 L352.48,305.75 L352.65,305.50 L352.83,305.25 L353.22,305.00 L353.50,304.96 L353.75,305.11 L354.00,305.38 L354.50,305.28 L354.75,305.02 L354.76,304.75 L354.60,304.50 L354.49,304.25 L354.55,304.00 L354.76,303.75 L355.00,303.40 L355.10,303.00 L355.25,302.56 L355.45,302.25 L355.55,302.00 L355.55,301.50 L355.64,301.00 L355.82,300.75 L356.09,300.50 L356.33,300.25 L356.50,299.90 L356.64,299.50 L356.75,299.18 L357.00,298.81 L357.25,298.58 L357.50,298.32 L357.71,298.00 L357.84,297.75 L358.06,297.50 L358.34,297.25 L358.62,297.00 L358.83,296.75 L359.03,296.50 L359.50,296.35 L360.00,296.27 L360.25,296.20 L360.75,296.11 L361.21,296.00 L361.50,295.97 L361.75,296.04 L362.25,296.25 L362.45,296.50 L362.53,296.75 L362.50,297.25 L362.42,297.50 L362.56,297.75 L362.88,298.00 L363.04,298.25 L363.05,298.75 L362.96,299.00 L362.75,299.47 L362.64,299.75 L362.52,300.25 L362.46,300.50 L362.25,300.83 L362.06,301.25 L362.00,301.50 L361.75,302.00 L361.57,302.25 L361.41,302.50 L361.26,303.00 L361.18,303.25 L361.00,303.51 L360.75,303.83 L360.52,304.25 L360.38,304.50 L360.18,304.75 L359.86,305.00 L359.59,305.25 L359.36,305.50 L359.00,305.64 L358.75,305.77 L358.44,306.00 L358.08,306.25 L357.83,306.50 L357.67,306.75 L357.50,307.05 L357.25,307.30 L356.79,307.50 L356.50,307.57 L356.00,307.51 L355.75,307.42 L355.25,307.30 L354.77,307.50 L354.55,307.75 L354.41,308.00 L354.42,308.50 L354.25,309.00 L354.01,309.25 L353.75,309.32 L353.25,309.37 L353.00,309.55 L352.75,309.80 L352.48,310.00 L352.13,310.25 L351.75,310.39 L351.25,310.41 L351.00,310.50 L350.90,311.00 L350.75,311.29 L350.50,311.24 L350.02,311.00 L349.75,310.88 L349.35,311.00 L349.00,311.18 L348.75,311.32 L348.46,311.50 L348.24,311.75 L348.00,312.07 M357.00,306.84 L356.56,306.75 L356.25,306.69 L355.75,306.68 L355.25,306.50 L355.00,306.41 L354.64,306.25 L354.66,305.75 L355.00,305.54 L355.25,305.39 L355.39,305.00 L355.43,304.50 L355.41,304.00 L355.50,303.72 L355.66,303.25 L355.80,303.00 L356.00,302.63 L356.11,302.25 L356.12,301.75 L356.10,301.25 L356.25,301.00 L356.52,300.75 L356.75,300.46 L356.90,300.00 L357.01,299.75 L357.25,299.29 L357.43,299.00 L357.64,298.75 L357.90,298.50 L358.11,298.25 L358.26,298.00 L358.50,297.70 L358.93,297.50 L359.25,297.43 L359.61,297.25 L359.86,297.00 L360.12,296.75 L360.50,296.58 L361.00,296.55 L361.50,296.75 L361.53,297.00 L361.49,297.25 L361.56,297.50 L361.75,297.75 L362.00,298.01 L362.25,298.26 L362.50,298.73 L362.50,299.00 L362.45,299.25 L362.27,299.75 L362.20,300.00 L362.00,300.43 L361.82,300.75 L361.75,301.00 L361.68,301.50 L361.50,301.82 L361.25,302.13 L361.04,302.50 L360.96,302.75 L360.78,303.25 L360.60,303.50 L360.40,303.75 L360.23,304.00 L360.00,304.33 L359.75,304.53 L359.25,304.74 L359.00,304.90 L358.75,305.02 L358.30,305.25 L358.05,305.50 L357.89,305.75 L357.74,306.00 L357.50,306.37 L357.25,306.69 L357.00,306.84 M350.25,310.03 L350.00,309.98 L349.81,309.50 L350.00,309.12 L350.25,308.83 L350.50,308.53 L350.65,308.25 L350.74,307.75 L350.77,307.50 L351.00,307.10 L351.25,306.91 L351.67,306.75 L352.00,306.72 L352.25,306.77 L352.70,306.75 L353.00,306.54 L353.25,306.41 L353.50,306.58 L353.83,306.75 L354.25,306.88 L354.34,307.25 L354.20,307.50 L354.00,307.78 L353.75,308.14 L353.50,308.46 L353.25,308.69 L353.00,308.90 L352.75,309.14 L352.50,309.33 L352.03,309.50 L351.75,309.62 L351.50,309.75 L351.00,309.86 L350.50,309.99 L350.25,310.03 M352.81,307.50 L352.75,307.12 L352.68,307.50 L352.81,307.50 M348.75,309.45 L348.50,309.16 L348.47,308.75 L348.75,308.53 L349.00,308.50 L349.15,308.75 L349.00,309.08 L348.75,309.45" fill="none" stroke="#0a0a0a" stroke-width="0.95" stroke-linejoin="round"/>
<text x="284.20" y="186.90" font-size="8.2" text-anchor="middle" fill="#000" stroke="#000" stroke-width="0.1" font-weight="bold" textLength="12.5" lengthAdjust="spacingAndGlyphs" >WT</text>
<text x="334.80" y="186.90" font-size="8.4" fill="#111" stroke="#111" stroke-width="0.1" font-weight="bold" textLength="21.6" lengthAdjust="spacingAndGlyphs">TLR2</text><text x="357.00" y="183.30" font-size="4.8" fill="#111" stroke="#111" stroke-width="0.3" textLength="5.0" lengthAdjust="spacingAndGlyphs">-/-</text>
<text x="270.00" y="259.90" font-size="8.4" fill="#111" stroke="#111" stroke-width="0.1" font-weight="bold" textLength="28.0" lengthAdjust="spacingAndGlyphs">Myd88</text><text x="298.60" y="256.30" font-size="4.8" fill="#111" stroke="#111" stroke-width="0.3" textLength="5.0" lengthAdjust="spacingAndGlyphs">-/-</text>
<text x="335.60" y="259.70" font-size="8.4" fill="#111" stroke="#111" stroke-width="0.1" font-weight="bold" textLength="20.8" lengthAdjust="spacingAndGlyphs">TLR9</text><text x="357.20" y="256.10" font-size="4.8" fill="#111" stroke="#111" stroke-width="0.3" textLength="5.4" lengthAdjust="spacingAndGlyphs">-/-</text>
<g transform="rotate(-90 248.20 283.80)"><text x="248.20" y="283.80" font-size="9.0" fill="#1e1e1e" stroke="#1e1e1e" stroke-width="0.3" textLength="35.4" lengthAdjust="spacingAndGlyphs">Tetramer</text><text x="285.20" y="280.40" font-size="5.6" fill="#1e1e1e" stroke="#1e1e1e" stroke-width="0.3" textLength="3.4" lengthAdjust="spacingAndGlyphs">+</text><text x="292.80" y="283.80" font-size="9.0" fill="#1e1e1e" stroke="#1e1e1e" stroke-width="0.3" textLength="34.2" lengthAdjust="spacingAndGlyphs">(of CD8)</text></g>
<line x1="243.50" y1="318.50" x2="243.50" y2="293.60" stroke="#000" stroke-width="1" />
<polygon points="243.5,289.2 241.4,294.6 245.6,294.6" fill="#000"/>
<line x1="256.50" y1="326.90" x2="280.20" y2="326.90" stroke="#000" stroke-width="1" />
<polygon points="284.8,326.9 279.4,324.8 279.4,329.0" fill="#000"/>
<text x="291.40" y="330.30" font-size="10.4" text-anchor="start" fill="#1e1e1e" stroke="#1e1e1e" stroke-width="0.3" textLength="15.4" lengthAdjust="spacingAndGlyphs" >CD8</text>
<text x="7.80" y="358.60" font-size="11.6" text-anchor="start" fill="#000" stroke="#000" stroke-width="0.1" font-weight="bold" >E</text>
<line x1="52.60" y1="365.80" x2="52.60" y2="463.30" stroke="#080808" stroke-width="1.6" />
<line x1="51.80" y1="462.50" x2="180.30" y2="462.50" stroke="#080808" stroke-width="1.6" />
<line x1="48.60" y1="462.50" x2="52.60" y2="462.50" stroke="#1e1e1e" stroke-width="1.3" />
<text x="46.00" y="465.50" font-size="8.7" text-anchor="end" fill="#1e1e1e" stroke="#1e1e1e" stroke-width="0.3" textLength="11.3" lengthAdjust="spacingAndGlyphs" >0.0</text>
<line x1="48.60" y1="443.58" x2="52.60" y2="443.58" stroke="#1e1e1e" stroke-width="1.3" />
<text x="46.00" y="446.58" font-size="8.7" text-anchor="end" fill="#1e1e1e" stroke="#1e1e1e" stroke-width="0.3" textLength="11.3" lengthAdjust="spacingAndGlyphs" >0.2</text>
<line x1="48.60" y1="424.66" x2="52.60" y2="424.66" stroke="#1e1e1e" stroke-width="1.3" />
<text x="46.00" y="427.66" font-size="8.7" text-anchor="end" fill="#1e1e1e" stroke="#1e1e1e" stroke-width="0.3" textLength="11.3" lengthAdjust="spacingAndGlyphs" >0.4</text>
<line x1="48.60" y1="405.74" x2="52.60" y2="405.74" stroke="#1e1e1e" stroke-width="1.3" />
<text x="46.00" y="408.74" font-size="8.7" text-anchor="end" fill="#1e1e1e" stroke="#1e1e1e" stroke-width="0.3" textLength="11.3" lengthAdjust="spacingAndGlyphs" >0.6</text>
<line x1="48.60" y1="386.82" x2="52.60" y2="386.82" stroke="#1e1e1e" stroke-width="1.3" />
<text x="46.00" y="389.82" font-size="8.7" text-anchor="end" fill="#1e1e1e" stroke="#1e1e1e" stroke-width="0.3" textLength="11.3" lengthAdjust="spacingAndGlyphs" >0.8</text>
<line x1="48.60" y1="367.90" x2="52.60" y2="367.90" stroke="#1e1e1e" stroke-width="1.3" />
<text x="46.00" y="370.90" font-size="8.7" text-anchor="end" fill="#1e1e1e" stroke="#1e1e1e" stroke-width="0.3" textLength="11.3" lengthAdjust="spacingAndGlyphs" >1.0</text>
<line x1="52.60" y1="462.50" x2="52.60" y2="465.60" stroke="#1e1e1e" stroke-width="1.3" />
<text x="52.70" y="476.30" font-size="8.7" text-anchor="middle" fill="#1e1e1e" stroke="#1e1e1e" stroke-width="0.3" >0</text>
<line x1="94.00" y1="462.50" x2="94.00" y2="465.60" stroke="#1e1e1e" stroke-width="1.3" />
<text x="94.10" y="476.30" font-size="8.7" text-anchor="middle" fill="#1e1e1e" stroke="#1e1e1e" stroke-width="0.3" >7</text>
<line x1="135.40" y1="462.50" x2="135.40" y2="465.60" stroke="#1e1e1e" stroke-width="1.3" />
<text x="135.50" y="476.30" font-size="8.7" text-anchor="middle" fill="#1e1e1e" stroke="#1e1e1e" stroke-width="0.3" textLength="8.9" lengthAdjust="spacingAndGlyphs" >14</text>
<line x1="176.80" y1="462.50" x2="176.80" y2="465.60" stroke="#1e1e1e" stroke-width="1.3" />
<text x="176.90" y="476.30" font-size="8.7" text-anchor="middle" fill="#1e1e1e" stroke="#1e1e1e" stroke-width="0.3" textLength="8.9" lengthAdjust="spacingAndGlyphs" >21</text>
<text x="116.40" y="489.80" font-size="10" text-anchor="middle" fill="#1e1e1e" stroke="#1e1e1e" stroke-width="0.3" textLength="19.2" lengthAdjust="spacingAndGlyphs" >Days</text>
<g transform="rotate(-90 29.80 458.30)"><text x="29.80" y="458.30" font-size="9.6" fill="#1e1e1e" stroke="#1e1e1e" stroke-width="0.3" textLength="45.131294117647066" lengthAdjust="spacingAndGlyphs">% tetramer</text><text x="74.52" y="454.50" font-size="5.376" fill="#1e1e1e" stroke="#1e1e1e" stroke-width="0.3" textLength="3.2527058823529416" lengthAdjust="spacingAndGlyphs">+</text><text x="79.81" y="458.30" font-size="9.6" fill="#1e1e1e" stroke="#1e1e1e" stroke-width="0.3" textLength="35.77976470588236" lengthAdjust="spacingAndGlyphs">(of CD8)</text></g>
<line x1="53.60" y1="453.40" x2="172.00" y2="453.40" stroke="#111" stroke-width="1.25" stroke-dasharray="1.2 0.9"/>
<polyline points="52.60,462.50 94.00,430.30 105.83,437.30 135.40,454.90 176.80,462.50" fill="none" stroke="#2b3d66" stroke-width="1.7" stroke-linejoin="round" stroke-dasharray="2.4 2"/>
<line x1="94.00" y1="416.20" x2="94.00" y2="444.30" stroke="#4b5f86" stroke-width="1.2" />
<line x1="90.40" y1="416.20" x2="97.60" y2="416.20" stroke="#4b5f86" stroke-width="1.2" />
<line x1="90.40" y1="444.30" x2="97.60" y2="444.30" stroke="#4b5f86" stroke-width="1.2" />
<line x1="105.83" y1="428.90" x2="105.83" y2="445.70" stroke="#4b5f86" stroke-width="1.2" />
<line x1="102.23" y1="428.90" x2="109.43" y2="428.90" stroke="#4b5f86" stroke-width="1.2" />
<line x1="102.23" y1="445.70" x2="109.43" y2="445.70" stroke="#4b5f86" stroke-width="1.2" />
<polyline points="52.60,462.50 94.00,420.90 105.83,390.80 135.40,449.60 176.80,455.20" fill="none" stroke="#a6002b" stroke-width="1.9" stroke-linejoin="round" />
<line x1="105.83" y1="374.50" x2="105.83" y2="407.20" stroke="#a6002b" stroke-width="1.3" />
<line x1="102.13" y1="374.50" x2="109.53" y2="374.50" stroke="#a6002b" stroke-width="1.3" />
<line x1="102.13" y1="407.20" x2="109.53" y2="407.20" stroke="#a6002b" stroke-width="1.3" />
<line x1="90.40" y1="415.40" x2="97.60" y2="415.40" stroke="#a6002b" stroke-width="1.2" />
<circle cx="52.60" cy="462.50" r="3.10" fill="#a6002b" stroke="none" stroke-width="1"/>
<circle cx="94.00" cy="420.90" r="3.10" fill="#a6002b" stroke="none" stroke-width="1"/>
<circle cx="105.83" cy="390.80" r="3.10" fill="#a6002b" stroke="none" stroke-width="1"/>
<circle cx="135.40" cy="449.60" r="3.10" fill="#a6002b" stroke="none" stroke-width="1"/>
<circle cx="176.80" cy="455.20" r="3.10" fill="#a6002b" stroke="none" stroke-width="1"/>
<circle cx="94.00" cy="430.30" r="3.10" fill="#fff" stroke="#2b3d66" stroke-width="1.35"/>
<path d="M92.70,430.30 a1.3,1.3 0 1 0 1.3,-1.3" fill="none" stroke="#2b3d66" stroke-width="0.9"/>
<circle cx="105.83" cy="437.30" r="3.10" fill="#fff" stroke="#2b3d66" stroke-width="1.35"/>
<path d="M104.53,437.30 a1.3,1.3 0 1 0 1.3,-1.3" fill="none" stroke="#2b3d66" stroke-width="0.9"/>
<circle cx="135.40" cy="454.90" r="3.10" fill="#fff" stroke="#2b3d66" stroke-width="1.35"/>
<path d="M134.10,454.90 a1.3,1.3 0 1 0 1.3,-1.3" fill="none" stroke="#2b3d66" stroke-width="0.9"/>
<circle cx="176.80" cy="462.50" r="3.10" fill="#fff" stroke="#2b3d66" stroke-width="1.35"/>
<path d="M175.50,462.50 a1.3,1.3 0 1 0 1.3,-1.3" fill="none" stroke="#2b3d66" stroke-width="0.9"/>
<circle cx="105.83" cy="422.90" r="1.00" fill="#1e1e1e" stroke="none" stroke-width="1"/>
<line x1="136.90" y1="382.10" x2="149.40" y2="382.10" stroke="#a6002b" stroke-width="1.9" />
<circle cx="143.30" cy="382.10" r="3.10" fill="#a6002b" stroke="none" stroke-width="1"/>
<line x1="136.90" y1="394.00" x2="139.20" y2="394.00" stroke="#2b3d66" stroke-width="1.7" />
<line x1="146.60" y1="394.00" x2="148.60" y2="394.00" stroke="#2b3d66" stroke-width="1.7" />
<circle cx="143.30" cy="394.00" r="3.20" fill="#fff" stroke="#2b3d66" stroke-width="1.35"/>
<path d="M142.00,394 a1.3,1.3 0 1 0 1.3,-1.3" fill="none" stroke="#2b3d66" stroke-width="0.9"/>
<text x="152.60" y="385.00" font-size="8.6" text-anchor="start" fill="#1e1e1e" stroke="#1e1e1e" stroke-width="0.3" textLength="12.2" lengthAdjust="spacingAndGlyphs" >WT</text>
<text x="152.60" y="397.00" font-size="8.6" text-anchor="start" fill="#1e1e1e" stroke="#1e1e1e" stroke-width="0.3" textLength="22.6" lengthAdjust="spacingAndGlyphs" >AP3-/-</text>
<text x="198.20" y="358.60" font-size="11.6" text-anchor="start" fill="#000" stroke="#000" stroke-width="0.1" font-weight="bold" >F</text>
<line x1="243.90" y1="366.20" x2="243.90" y2="463.30" stroke="#080808" stroke-width="1.7" />
<line x1="243.10" y1="462.50" x2="306.30" y2="462.50" stroke="#080808" stroke-width="1.6" />
<line x1="240.20" y1="462.50" x2="243.90" y2="462.50" stroke="#1e1e1e" stroke-width="1.3" />
<text x="237.80" y="465.50" font-size="8.7" text-anchor="end" fill="#1e1e1e" stroke="#1e1e1e" stroke-width="0.3" textLength="11.3" lengthAdjust="spacingAndGlyphs" >0.0</text>
<line x1="240.20" y1="443.82" x2="243.90" y2="443.82" stroke="#1e1e1e" stroke-width="1.3" />
<text x="237.80" y="446.82" font-size="8.7" text-anchor="end" fill="#1e1e1e" stroke="#1e1e1e" stroke-width="0.3" textLength="11.3" lengthAdjust="spacingAndGlyphs" >0.5</text>
<line x1="240.20" y1="425.15" x2="243.90" y2="425.15" stroke="#1e1e1e" stroke-width="1.3" />
<text x="237.80" y="428.15" font-size="8.7" text-anchor="end" fill="#1e1e1e" stroke="#1e1e1e" stroke-width="0.3" textLength="11.3" lengthAdjust="spacingAndGlyphs" >1.0</text>
<line x1="240.20" y1="406.48" x2="243.90" y2="406.48" stroke="#1e1e1e" stroke-width="1.3" />
<text x="237.80" y="409.48" font-size="8.7" text-anchor="end" fill="#1e1e1e" stroke="#1e1e1e" stroke-width="0.3" textLength="11.3" lengthAdjust="spacingAndGlyphs" >1.5</text>
<line x1="240.20" y1="387.80" x2="243.90" y2="387.80" stroke="#1e1e1e" stroke-width="1.3" />
<text x="237.80" y="390.80" font-size="8.7" text-anchor="end" fill="#1e1e1e" stroke="#1e1e1e" stroke-width="0.3" textLength="11.3" lengthAdjust="spacingAndGlyphs" >2.0</text>
<line x1="240.20" y1="369.12" x2="243.90" y2="369.12" stroke="#1e1e1e" stroke-width="1.3" />
<text x="237.80" y="372.12" font-size="8.7" text-anchor="end" fill="#1e1e1e" stroke="#1e1e1e" stroke-width="0.3" textLength="11.3" lengthAdjust="spacingAndGlyphs" >2.5</text>
<rect x="248.30" y="411.70" width="22.40" height="50.80" fill="#a6002b" stroke="none" stroke-width="1"/>
<line x1="259.50" y1="411.70" x2="259.50" y2="404.70" stroke="#1e1e1e" stroke-width="1.3" />
<line x1="253.90" y1="404.70" x2="265.10" y2="404.70" stroke="#1e1e1e" stroke-width="1.3" />
<rect x="279.60" y="400.40" width="22.40" height="62.10" fill="#2f4a7c" stroke="none" stroke-width="1"/>
<line x1="290.90" y1="400.40" x2="290.90" y2="383.60" stroke="#1e1e1e" stroke-width="1.3" />
<line x1="285.10" y1="383.60" x2="296.70" y2="383.60" stroke="#1e1e1e" stroke-width="1.3" />
<line x1="244.90" y1="458.70" x2="305.40" y2="458.70" stroke="#111" stroke-width="1.25" stroke-dasharray="1.2 0.9"/>
<line x1="259.50" y1="462.50" x2="259.50" y2="465.60" stroke="#1e1e1e" stroke-width="1.3" />
<line x1="290.90" y1="462.50" x2="290.90" y2="465.60" stroke="#1e1e1e" stroke-width="1.3" />
<text x="259.70" y="476.60" font-size="8.8" text-anchor="middle" fill="#1e1e1e" stroke="#1e1e1e" stroke-width="0.3" textLength="13.4" lengthAdjust="spacingAndGlyphs" >WT</text>
<text x="274.40" y="476.60" font-size="8.8" fill="#1e1e1e" stroke="#1e1e1e" stroke-width="0.3" textLength="25.6" lengthAdjust="spacingAndGlyphs">STING</text><text x="300.60" y="473.00" font-size="5.2" fill="#1e1e1e" stroke="#1e1e1e" stroke-width="0.3" textLength="6.0" lengthAdjust="spacingAndGlyphs">-/-</text>
<g transform="rotate(-90 220.40 455.40)"><text x="220.40" y="455.40" font-size="9.6" fill="#1e1e1e" stroke="#1e1e1e" stroke-width="0.3" textLength="44.4" lengthAdjust="spacingAndGlyphs">% tetramer</text><text x="264.40" y="451.60" font-size="5.376" fill="#1e1e1e" stroke="#1e1e1e" stroke-width="0.3" textLength="3.2" lengthAdjust="spacingAndGlyphs">+</text><text x="269.60" y="455.40" font-size="9.6" fill="#1e1e1e" stroke="#1e1e1e" stroke-width="0.3" textLength="35.2" lengthAdjust="spacingAndGlyphs">(of CD8)</text></g>
<rect x="0" y="0" width="520" height="1.5" fill="#000"/>
<rect x="0" y="0" width="1.3" height="500" fill="#000"/>
<rect x="518.2" y="0" width="1.8" height="500" fill="#000"/>
<rect x="0" y="498" width="520" height="2" fill="#000"/>
</svg>
</body></html>
